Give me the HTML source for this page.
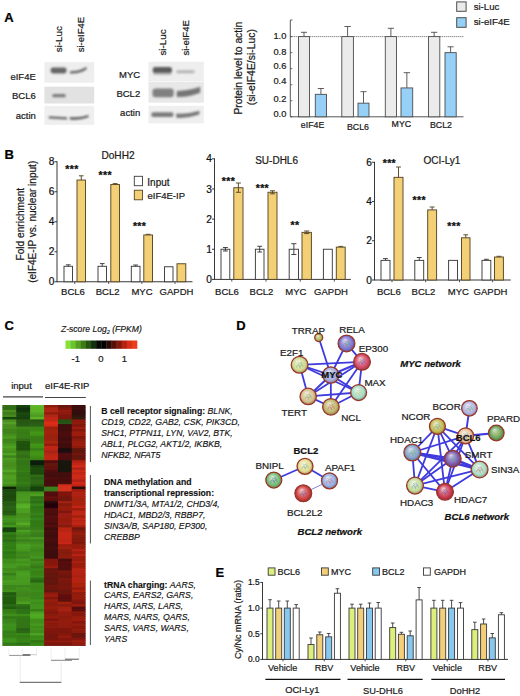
<!DOCTYPE html>
<html lang="en">
<head>
<meta charset="utf-8">
<title>Figure</title>
<style>
html,body{margin:0;padding:0;background:#fff;}
body{width:520px;height:696px;overflow:hidden;}
svg{display:block;font-family:'Liberation Sans', Arial, sans-serif;}
</style>
</head>
<body>
<svg width="520" height="696" viewBox="0 0 520 696">
<defs>
<filter id="blur1" x="-10%" y="-40%" width="120%" height="180%"><feGaussianBlur stdDeviation="0.9"/></filter>
<filter id="blur2" x="-2%" y="-1%" width="104%" height="102%"><feGaussianBlur stdDeviation="0.45"/></filter>
<filter id="blur3" x="-5%" y="-5%" width="110%" height="110%"><feGaussianBlur stdDeviation="0.35"/></filter>
<radialGradient id="ng1" cx="0.5" cy="0.5" r="0.5" fx="0.38" fy="0.30"><stop offset="0" stop-color="#edefdb"/><stop offset="0.35" stop-color="#cbd095"/><stop offset="0.75" stop-color="#b0b85c"/><stop offset="1" stop-color="#867d3e"/></radialGradient>
<radialGradient id="ng2" cx="0.5" cy="0.5" r="0.5" fx="0.38" fy="0.30"><stop offset="0" stop-color="#e3e0f4"/><stop offset="0.35" stop-color="#aca5e0"/><stop offset="0.75" stop-color="#8076d0"/><stop offset="1" stop-color="#67528a"/></radialGradient>
<radialGradient id="ng3" cx="0.5" cy="0.5" r="0.5" fx="0.38" fy="0.30"><stop offset="0" stop-color="#f5d7dd"/><stop offset="0.35" stop-color="#e38a9c"/><stop offset="0.75" stop-color="#d44c68"/><stop offset="1" stop-color="#9e3746"/></radialGradient>
<radialGradient id="ng4" cx="0.5" cy="0.5" r="0.5" fx="0.38" fy="0.30"><stop offset="0" stop-color="#f5f6e7"/><stop offset="0.35" stop-color="#e1e6b9"/><stop offset="0.75" stop-color="#d2da94"/><stop offset="1" stop-color="#9c9363"/></radialGradient>
<radialGradient id="ng5" cx="0.5" cy="0.5" r="0.5" fx="0.38" fy="0.30"><stop offset="0" stop-color="#ecedf8"/><stop offset="0.35" stop-color="#c7cbec"/><stop offset="0.75" stop-color="#aab0e2"/><stop offset="1" stop-color="#827895"/></radialGradient>
<radialGradient id="ng6" cx="0.5" cy="0.5" r="0.5" fx="0.38" fy="0.30"><stop offset="0" stop-color="#ebf7f2"/><stop offset="0.35" stop-color="#c6e8d9"/><stop offset="0.75" stop-color="#a8dcc6"/><stop offset="1" stop-color="#819483"/></radialGradient>
<radialGradient id="ng7" cx="0.5" cy="0.5" r="0.5" fx="0.38" fy="0.30"><stop offset="0" stop-color="#f6f1e6"/><stop offset="0.35" stop-color="#e5d6b6"/><stop offset="0.75" stop-color="#d8c090"/><stop offset="1" stop-color="#a08260"/></radialGradient>
<radialGradient id="ng8" cx="0.5" cy="0.5" r="0.5" fx="0.38" fy="0.30"><stop offset="0" stop-color="#f1efdf"/><stop offset="0.35" stop-color="#d6d0a2"/><stop offset="0.75" stop-color="#c0b870"/><stop offset="1" stop-color="#917d4b"/></radialGradient>
<radialGradient id="ng9" cx="0.5" cy="0.5" r="0.5" fx="0.38" fy="0.30"><stop offset="0" stop-color="#f9f7e6"/><stop offset="0.35" stop-color="#ede8b6"/><stop offset="0.75" stop-color="#e4dc90"/><stop offset="1" stop-color="#a89460"/></radialGradient>
<radialGradient id="ng10" cx="0.5" cy="0.5" r="0.5" fx="0.38" fy="0.30"><stop offset="0" stop-color="#e1f0e1"/><stop offset="0.35" stop-color="#a7d3a7"/><stop offset="0.75" stop-color="#78bc78"/><stop offset="1" stop-color="#627f50"/></radialGradient>
<radialGradient id="ng11" cx="0.5" cy="0.5" r="0.5" fx="0.38" fy="0.30"><stop offset="0" stop-color="#e8edf9"/><stop offset="0.35" stop-color="#bccbed"/><stop offset="0.75" stop-color="#98b0e4"/><stop offset="1" stop-color="#777897"/></radialGradient>
<radialGradient id="ng12" cx="0.5" cy="0.5" r="0.5" fx="0.38" fy="0.30"><stop offset="0" stop-color="#f4d5d5"/><stop offset="0.35" stop-color="#e08585"/><stop offset="0.75" stop-color="#d04444"/><stop offset="1" stop-color="#9b312f"/></radialGradient>
<radialGradient id="ng13" cx="0.5" cy="0.5" r="0.5" fx="0.38" fy="0.30"><stop offset="0" stop-color="#eeeef9"/><stop offset="0.35" stop-color="#ceceed"/><stop offset="0.75" stop-color="#b4b4e4"/><stop offset="1" stop-color="#897a97"/></radialGradient>
<radialGradient id="ng14" cx="0.5" cy="0.5" r="0.5" fx="0.38" fy="0.30"><stop offset="0" stop-color="#f2f0da"/><stop offset="0.35" stop-color="#d8d392"/><stop offset="0.75" stop-color="#c4bc58"/><stop offset="1" stop-color="#937f3c"/></radialGradient>
<radialGradient id="ng15" cx="0.5" cy="0.5" r="0.5" fx="0.38" fy="0.30"><stop offset="0" stop-color="#faf2e9"/><stop offset="0.35" stop-color="#f2d8be"/><stop offset="0.75" stop-color="#ecc49c"/><stop offset="1" stop-color="#ad8568"/></radialGradient>
<radialGradient id="ng16" cx="0.5" cy="0.5" r="0.5" fx="0.38" fy="0.30"><stop offset="0" stop-color="#deeadb"/><stop offset="0.35" stop-color="#9fc395"/><stop offset="0.75" stop-color="#6ca45c"/><stop offset="1" stop-color="#5a703e"/></radialGradient>
<radialGradient id="ng17" cx="0.5" cy="0.5" r="0.5" fx="0.38" fy="0.30"><stop offset="0" stop-color="#e3eaf3"/><stop offset="0.35" stop-color="#afc3dd"/><stop offset="0.75" stop-color="#84a4cc"/><stop offset="1" stop-color="#6a7087"/></radialGradient>
<radialGradient id="ng18" cx="0.5" cy="0.5" r="0.5" fx="0.38" fy="0.30"><stop offset="0" stop-color="#e2dbec"/><stop offset="0.35" stop-color="#a995c9"/><stop offset="0.75" stop-color="#7c5cac"/><stop offset="1" stop-color="#644172"/></radialGradient>
<radialGradient id="ng19" cx="0.5" cy="0.5" r="0.5" fx="0.38" fy="0.30"><stop offset="0" stop-color="#ecf7f2"/><stop offset="0.35" stop-color="#c9e8d8"/><stop offset="0.75" stop-color="#acdcc4"/><stop offset="1" stop-color="#849482"/></radialGradient>
<radialGradient id="ng20" cx="0.5" cy="0.5" r="0.5" fx="0.38" fy="0.30"><stop offset="0" stop-color="#f2f7e9"/><stop offset="0.35" stop-color="#d8e8be"/><stop offset="0.75" stop-color="#c4dc9c"/><stop offset="1" stop-color="#939468"/></radialGradient>
<radialGradient id="ng21" cx="0.5" cy="0.5" r="0.5" fx="0.38" fy="0.30"><stop offset="0" stop-color="#f3d4d9"/><stop offset="0.35" stop-color="#dd808f"/><stop offset="0.75" stop-color="#cc3c54"/><stop offset="1" stop-color="#982c39"/></radialGradient>
</defs>
<rect x="0" y="0" width="520" height="696" fill="#ffffff"/>
<text x="4.3" y="22.3" font-size="13" text-anchor="start" font-weight="bold" font-style="normal" fill="#000" stroke="#000" stroke-width="0.22">A</text>
<text x="61.9" y="52.3" font-size="9.8" text-anchor="start" font-weight="normal" font-style="normal" fill="#1a1a1a" stroke="#1a1a1a" stroke-width="0.22" transform="rotate(-90 61.9 52.3)">si-Luc</text>
<text x="83.6" y="52.3" font-size="9.5" text-anchor="start" font-weight="normal" font-style="normal" fill="#1a1a1a" stroke="#1a1a1a" stroke-width="0.22" transform="rotate(-90 83.6 52.3)">si-eIF4E</text>
<text x="35.8" y="79.7" font-size="9.5" text-anchor="end" font-weight="normal" font-style="normal" fill="#1a1a1a" stroke="#1a1a1a" stroke-width="0.22">eIF4E</text>
<text x="35.8" y="98.7" font-size="9.5" text-anchor="end" font-weight="normal" font-style="normal" fill="#1a1a1a" stroke="#1a1a1a" stroke-width="0.22">BCL6</text>
<text x="35.8" y="118.5" font-size="9.5" text-anchor="end" font-weight="normal" font-style="normal" fill="#1a1a1a" stroke="#1a1a1a" stroke-width="0.22">actin</text>
<rect x="44.40" y="62.20" width="49.80" height="20.50" fill="#eeeeee" stroke="none" stroke-width="1"/>
<rect x="44.40" y="86.70" width="49.80" height="16.80" fill="#e2e2e2" stroke="none" stroke-width="1"/>
<rect x="44.40" y="105.80" width="49.80" height="19.00" fill="#efefef" stroke="none" stroke-width="1"/>
<g filter="url(#blur1)">
<rect x="50.60" y="67.50" width="16.00" height="6.00" fill="#666666" stroke="none" stroke-width="1" rx="2.4"/>
<path d="M70 71 Q79 71.6 86.5 66.8 L86.7 69.2 Q79 74.4 70 73.4 Z" fill="#6a6a6a"/>
<rect x="52.20" y="93.90" width="13.60" height="3.40" fill="#7c7c7c" stroke="none" stroke-width="1" rx="1.6"/>
<path d="M48.8 116.2 L67 117.2 L67 119.6 L48.8 118.4 Z" fill="#666"/>
<path d="M69.8 117.0 Q80 118.0 88.5 115.0 L88.5 117.3 Q80 120.6 69.8 119.4 Z" fill="#5c5c5c"/>
</g>
<text x="165.6" y="55.6" font-size="9.8" text-anchor="start" font-weight="normal" font-style="normal" fill="#1a1a1a" stroke="#1a1a1a" stroke-width="0.22" transform="rotate(-90 165.6 55.6)">si-Luc</text>
<text x="188.6" y="55.6" font-size="9.5" text-anchor="start" font-weight="normal" font-style="normal" fill="#1a1a1a" stroke="#1a1a1a" stroke-width="0.22" transform="rotate(-90 188.6 55.6)">si-eIF4E</text>
<text x="140.2" y="78.4" font-size="9.5" text-anchor="end" font-weight="normal" font-style="normal" fill="#1a1a1a" stroke="#1a1a1a" stroke-width="0.22">MYC</text>
<text x="140.2" y="97.3" font-size="9.5" text-anchor="end" font-weight="normal" font-style="normal" fill="#1a1a1a" stroke="#1a1a1a" stroke-width="0.22">BCL2</text>
<text x="140.2" y="116.0" font-size="9.5" text-anchor="end" font-weight="normal" font-style="normal" fill="#1a1a1a" stroke="#1a1a1a" stroke-width="0.22">actin</text>
<rect x="148.50" y="61.70" width="55.30" height="19.60" fill="#eeeeee" stroke="none" stroke-width="1"/>
<rect x="148.50" y="81.80" width="55.30" height="20.90" fill="#e8e8e8" stroke="none" stroke-width="1"/>
<rect x="148.50" y="105.80" width="55.30" height="17.60" fill="#efefef" stroke="none" stroke-width="1"/>
<g filter="url(#blur1)">
<rect x="153.20" y="71.50" width="18.30" height="3.60" fill="#b8b8b8" stroke="none" stroke-width="1" rx="1.6"/>
<rect x="152.70" y="66.90" width="19.30" height="6.20" fill="#5c5c5c" stroke="none" stroke-width="1" rx="2.6"/>
<rect x="176.30" y="70.30" width="18.30" height="3.00" fill="#b4b4b4" stroke="none" stroke-width="1" rx="1.4"/>
<rect x="152.50" y="88.60" width="21.20" height="8.60" fill="#808080" stroke="none" stroke-width="1" rx="3"/>
<path d="M176.8 91.0 Q189 90.6 200.2 86.8 L200.2 92.8 Q189 97.4 176.8 97.0 Z" fill="#767676"/>
<rect x="151.30" y="112.20" width="22.20" height="4.90" fill="#7a7a7a" stroke="none" stroke-width="1" rx="2"/>
<path d="M176.3 113.6 Q188 114.4 199.4 110.8 L199.4 114.6 Q188 118.6 176.3 117.8 Z" fill="#787878"/>
</g>
<text x="242.5" y="68.2" font-size="10.3" text-anchor="middle" font-weight="normal" font-style="normal" fill="#1a1a1a" stroke="#1a1a1a" stroke-width="0.22" transform="rotate(-90 242.5 68.2)">Protein level to actin</text>
<text x="254.7" y="67.2" font-size="10.4" text-anchor="middle" font-weight="normal" font-style="normal" fill="#1a1a1a" stroke="#1a1a1a" stroke-width="0.22" transform="rotate(-90 254.7 67.2)">(si-eIF4E/si-Luc)</text>
<text x="286.4" y="117.3" font-size="9.3" text-anchor="end" font-weight="normal" font-style="normal" fill="#1a1a1a" stroke="#1a1a1a" stroke-width="0.22">0.0</text>
<line x1="290.3" y1="116.8" x2="292.3" y2="116.8" stroke="#444" stroke-width="0.8"/>
<text x="286.4" y="101.6" font-size="9.3" text-anchor="end" font-weight="normal" font-style="normal" fill="#1a1a1a" stroke="#1a1a1a" stroke-width="0.22">0.2</text>
<line x1="290.3" y1="100.75999999999999" x2="292.3" y2="100.75999999999999" stroke="#444" stroke-width="0.8"/>
<text x="286.4" y="84.2" font-size="9.3" text-anchor="end" font-weight="normal" font-style="normal" fill="#1a1a1a" stroke="#1a1a1a" stroke-width="0.22">0.4</text>
<line x1="290.3" y1="84.72" x2="292.3" y2="84.72" stroke="#444" stroke-width="0.8"/>
<text x="286.4" y="69.3" font-size="9.3" text-anchor="end" font-weight="normal" font-style="normal" fill="#1a1a1a" stroke="#1a1a1a" stroke-width="0.22">0.6</text>
<line x1="290.3" y1="68.68" x2="292.3" y2="68.68" stroke="#444" stroke-width="0.8"/>
<text x="286.4" y="55.199999999999996" font-size="9.3" text-anchor="end" font-weight="normal" font-style="normal" fill="#1a1a1a" stroke="#1a1a1a" stroke-width="0.22">0.8</text>
<line x1="290.3" y1="52.639999999999986" x2="292.3" y2="52.639999999999986" stroke="#444" stroke-width="0.8"/>
<text x="286.4" y="39.0" font-size="9.3" text-anchor="end" font-weight="normal" font-style="normal" fill="#1a1a1a" stroke="#1a1a1a" stroke-width="0.22">1.0</text>
<line x1="290.3" y1="36.599999999999994" x2="292.3" y2="36.599999999999994" stroke="#444" stroke-width="0.8"/>
<line x1="290.3" y1="20" x2="290.3" y2="116.8" stroke="#444" stroke-width="0.9"/>
<line x1="290.3" y1="20" x2="292.5" y2="20" stroke="#444" stroke-width="0.8"/>
<line x1="290.3" y1="116.8" x2="463.5" y2="116.8" stroke="#444" stroke-width="0.9"/>
<line x1="290.3" y1="36.599999999999994" x2="464" y2="36.599999999999994" stroke="#333" stroke-width="0.8" stroke-dasharray="1 1"/>
<rect x="298.50" y="36.60" width="11.00" height="80.20" fill="#ebebeb" stroke="#4c4c4c" stroke-width="0.9"/>
<line x1="304.0" y1="32.3" x2="304.0" y2="36.599999999999994" stroke="#4c4c4c" stroke-width="0.9"/>
<line x1="300.975" y1="32.3" x2="307.025" y2="32.3" stroke="#4c4c4c" stroke-width="0.9"/>
<rect x="315.30" y="94.34" width="11.20" height="22.46" fill="#97d0f7" stroke="#4c4c4c" stroke-width="0.9"/>
<line x1="320.9" y1="88.5" x2="320.9" y2="94.344" stroke="#4c4c4c" stroke-width="0.9"/>
<line x1="317.82" y1="88.5" x2="323.97999999999996" y2="88.5" stroke="#4c4c4c" stroke-width="0.9"/>
<rect x="341.80" y="36.60" width="11.60" height="80.20" fill="#ebebeb" stroke="#4c4c4c" stroke-width="0.9"/>
<line x1="347.6" y1="26.5" x2="347.6" y2="36.599999999999994" stroke="#4c4c4c" stroke-width="0.9"/>
<line x1="344.41" y1="26.5" x2="350.79" y2="26.5" stroke="#4c4c4c" stroke-width="0.9"/>
<rect x="358.00" y="103.17" width="11.00" height="13.63" fill="#97d0f7" stroke="#4c4c4c" stroke-width="0.9"/>
<line x1="363.5" y1="91.7" x2="363.5" y2="103.166" stroke="#4c4c4c" stroke-width="0.9"/>
<line x1="360.475" y1="91.7" x2="366.525" y2="91.7" stroke="#4c4c4c" stroke-width="0.9"/>
<rect x="385.30" y="36.60" width="11.20" height="80.20" fill="#ebebeb" stroke="#4c4c4c" stroke-width="0.9"/>
<line x1="390.9" y1="28.3" x2="390.9" y2="36.599999999999994" stroke="#4c4c4c" stroke-width="0.9"/>
<line x1="387.82" y1="28.3" x2="393.97999999999996" y2="28.3" stroke="#4c4c4c" stroke-width="0.9"/>
<rect x="401.00" y="87.93" width="11.70" height="28.87" fill="#97d0f7" stroke="#4c4c4c" stroke-width="0.9"/>
<line x1="406.85" y1="72.7" x2="406.85" y2="87.928" stroke="#4c4c4c" stroke-width="0.9"/>
<line x1="403.63250000000005" y1="72.7" x2="410.0675" y2="72.7" stroke="#4c4c4c" stroke-width="0.9"/>
<rect x="428.50" y="36.60" width="11.30" height="80.20" fill="#ebebeb" stroke="#4c4c4c" stroke-width="0.9"/>
<line x1="434.15" y1="32.3" x2="434.15" y2="36.599999999999994" stroke="#4c4c4c" stroke-width="0.9"/>
<line x1="431.04249999999996" y1="32.3" x2="437.2575" y2="32.3" stroke="#4c4c4c" stroke-width="0.9"/>
<rect x="445.00" y="52.64" width="11.20" height="64.16" fill="#97d0f7" stroke="#4c4c4c" stroke-width="0.9"/>
<line x1="450.6" y1="46.8" x2="450.6" y2="52.639999999999986" stroke="#4c4c4c" stroke-width="0.9"/>
<line x1="447.52000000000004" y1="46.8" x2="453.68" y2="46.8" stroke="#4c4c4c" stroke-width="0.9"/>
<text x="312.6" y="128.2" font-size="8.8" text-anchor="middle" font-weight="normal" font-style="normal" fill="#1a1a1a" stroke="#1a1a1a" stroke-width="0.22">eIF4E</text>
<text x="358" y="129.6" font-size="8.8" text-anchor="middle" font-weight="normal" font-style="normal" fill="#1a1a1a" stroke="#1a1a1a" stroke-width="0.22">BCL6</text>
<text x="401.4" y="127.2" font-size="8.8" text-anchor="middle" font-weight="normal" font-style="normal" fill="#1a1a1a" stroke="#1a1a1a" stroke-width="0.22">MYC</text>
<text x="441" y="127.9" font-size="8.8" text-anchor="middle" font-weight="normal" font-style="normal" fill="#1a1a1a" stroke="#1a1a1a" stroke-width="0.22">BCL2</text>
<rect x="456.70" y="1.90" width="9.40" height="9.40" fill="#ebebeb" stroke="#4c4c4c" stroke-width="1.0"/>
<rect x="456.70" y="17.70" width="9.40" height="9.60" fill="#97d0f7" stroke="#4c4c4c" stroke-width="1.0"/>
<text x="473.7" y="9.6" font-size="9.6" text-anchor="start" font-weight="normal" font-style="normal" fill="#1a1a1a" stroke="#1a1a1a" stroke-width="0.22">si-Luc</text>
<text x="473.7" y="24.8" font-size="9.7" text-anchor="start" font-weight="normal" font-style="normal" fill="#1a1a1a" stroke="#1a1a1a" stroke-width="0.22">si-eIF4E</text>
<text x="4.6" y="158.6" font-size="13" text-anchor="start" font-weight="bold" font-style="normal" fill="#000" stroke="#000" stroke-width="0.22">B</text>
<text x="24.3" y="224.2" font-size="10.15" text-anchor="middle" font-weight="normal" font-style="normal" fill="#1a1a1a" stroke="#1a1a1a" stroke-width="0.22" transform="rotate(-90 24.3 224.2)">Fold enrichment</text>
<text x="36.0" y="221.8" font-size="10.05" text-anchor="middle" font-weight="normal" font-style="normal" fill="#1a1a1a" stroke="#1a1a1a" stroke-width="0.22" transform="rotate(-90 36.0 221.8)">(eIF4E-IP vs. nuclear input)</text>
<text x="54.4" y="285.35" font-size="10.2" text-anchor="end" font-weight="normal" font-style="normal" fill="#111" stroke="#111" stroke-width="0.22">0</text>
<line x1="54.5" y1="281.75" x2="57" y2="281.75" stroke="#222" stroke-width="0.9"/>
<text x="54.4" y="255.35" font-size="10.2" text-anchor="end" font-weight="normal" font-style="normal" fill="#111" stroke="#111" stroke-width="0.22">2</text>
<line x1="54.5" y1="251.75" x2="57" y2="251.75" stroke="#222" stroke-width="0.9"/>
<text x="54.4" y="225.35" font-size="10.2" text-anchor="end" font-weight="normal" font-style="normal" fill="#111" stroke="#111" stroke-width="0.22">4</text>
<line x1="54.5" y1="221.75" x2="57" y2="221.75" stroke="#222" stroke-width="0.9"/>
<text x="54.4" y="195.35" font-size="10.2" text-anchor="end" font-weight="normal" font-style="normal" fill="#111" stroke="#111" stroke-width="0.22">6</text>
<line x1="54.5" y1="191.75" x2="57" y2="191.75" stroke="#222" stroke-width="0.9"/>
<text x="54.4" y="165.35" font-size="10.2" text-anchor="end" font-weight="normal" font-style="normal" fill="#111" stroke="#111" stroke-width="0.22">8</text>
<line x1="54.5" y1="161.75" x2="57" y2="161.75" stroke="#222" stroke-width="0.9"/>
<line x1="57" y1="161.35" x2="57" y2="282.15" stroke="#222" stroke-width="0.9"/>
<line x1="57" y1="281.75" x2="192.5" y2="281.75" stroke="#222" stroke-width="0.9"/>
<rect x="64.00" y="266.30" width="8.50" height="15.45" fill="#ffffff" stroke="#3c3c3c" stroke-width="0.95"/>
<line x1="68.25" y1="264.8" x2="68.25" y2="266.3" stroke="#3c3c3c" stroke-width="0.95"/>
<line x1="65.9125" y1="264.8" x2="70.5875" y2="264.8" stroke="#3c3c3c" stroke-width="0.95"/>
<rect x="77.00" y="180.05" width="8.50" height="101.70" fill="#f3cf76" stroke="#574626" stroke-width="0.95"/>
<line x1="81.25" y1="175.8" x2="81.25" y2="180.05" stroke="#574626" stroke-width="0.95"/>
<line x1="78.9125" y1="175.8" x2="83.5875" y2="175.8" stroke="#574626" stroke-width="0.95"/>
<rect x="98.00" y="266.30" width="8.50" height="15.45" fill="#ffffff" stroke="#3c3c3c" stroke-width="0.95"/>
<line x1="102.25" y1="263.6" x2="102.25" y2="266.3" stroke="#3c3c3c" stroke-width="0.95"/>
<line x1="99.9125" y1="263.6" x2="104.5875" y2="263.6" stroke="#3c3c3c" stroke-width="0.95"/>
<rect x="110.80" y="184.55" width="8.70" height="97.20" fill="#f3cf76" stroke="#574626" stroke-width="0.95"/>
<line x1="115.15" y1="183.6" x2="115.15" y2="184.55" stroke="#574626" stroke-width="0.95"/>
<line x1="112.75750000000001" y1="183.6" x2="117.5425" y2="183.6" stroke="#574626" stroke-width="0.95"/>
<rect x="131.30" y="266.30" width="8.70" height="15.45" fill="#ffffff" stroke="#3c3c3c" stroke-width="0.95"/>
<line x1="135.65" y1="265" x2="135.65" y2="266.3" stroke="#3c3c3c" stroke-width="0.95"/>
<line x1="133.25750000000002" y1="265" x2="138.0425" y2="265" stroke="#3c3c3c" stroke-width="0.95"/>
<rect x="143.80" y="234.95" width="8.70" height="46.80" fill="#f3cf76" stroke="#574626" stroke-width="0.95"/>
<line x1="148.15" y1="234.3" x2="148.15" y2="234.95" stroke="#574626" stroke-width="0.95"/>
<line x1="145.75750000000002" y1="234.3" x2="150.5425" y2="234.3" stroke="#574626" stroke-width="0.95"/>
<rect x="164.50" y="266.75" width="8.50" height="15.00" fill="#ffffff" stroke="#3c3c3c" stroke-width="0.95"/>
<rect x="177.00" y="263.75" width="8.80" height="18.00" fill="#f3cf76" stroke="#574626" stroke-width="0.95"/>
<line x1="74.75" y1="281.75" x2="74.75" y2="283.95" stroke="#222" stroke-width="0.8"/>
<line x1="108.65" y1="281.75" x2="108.65" y2="283.95" stroke="#222" stroke-width="0.8"/>
<line x1="141.9" y1="281.75" x2="141.9" y2="283.95" stroke="#222" stroke-width="0.8"/>
<line x1="175.0" y1="281.75" x2="175.0" y2="283.95" stroke="#222" stroke-width="0.8"/>
<text x="73" y="295.4" font-size="9.5" text-anchor="middle" font-weight="normal" font-style="normal" fill="#1a1a1a" stroke="#1a1a1a" stroke-width="0.22">BCL6</text>
<text x="107.6" y="295.4" font-size="9.5" text-anchor="middle" font-weight="normal" font-style="normal" fill="#1a1a1a" stroke="#1a1a1a" stroke-width="0.22">BCL2</text>
<text x="142" y="295.4" font-size="9.5" text-anchor="middle" font-weight="normal" font-style="normal" fill="#1a1a1a" stroke="#1a1a1a" stroke-width="0.22">MYC</text>
<text x="176.5" y="295.4" font-size="9.5" text-anchor="middle" font-weight="normal" font-style="normal" fill="#1a1a1a" stroke="#1a1a1a" stroke-width="0.22">GAPDH</text>
<text x="118.0" y="159.3" font-size="10.1" text-anchor="middle" font-weight="normal" font-style="normal" fill="#1a1a1a" stroke="#1a1a1a" stroke-width="0.22">DoHH2</text>
<text x="72.0" y="172.9" font-size="10.5" text-anchor="middle" font-weight="bold" font-style="normal" fill="#111" stroke="#111" stroke-width="0.25" letter-spacing="0.35">***</text>
<text x="105.2" y="178.9" font-size="10.5" text-anchor="middle" font-weight="bold" font-style="normal" fill="#111" stroke="#111" stroke-width="0.25" letter-spacing="0.35">***</text>
<text x="139.6" y="229.6" font-size="10.5" text-anchor="middle" font-weight="bold" font-style="normal" fill="#111" stroke="#111" stroke-width="0.25" letter-spacing="0.35">***</text>
<rect x="134.30" y="176.30" width="8.20" height="9.40" fill="#ffffff" stroke="#3c3c3c" stroke-width="0.9"/>
<rect x="134.30" y="190.20" width="8.20" height="9.60" fill="#f3cf76" stroke="#574626" stroke-width="0.9"/>
<text x="147.3" y="185.5" font-size="10" text-anchor="start" font-weight="normal" font-style="normal" fill="#1a1a1a" stroke="#1a1a1a" stroke-width="0.22">Input</text>
<text x="147.5" y="198.6" font-size="9.5" text-anchor="start" font-weight="normal" font-style="normal" fill="#1a1a1a" stroke="#1a1a1a" stroke-width="0.22">eIF4E-IP</text>
<text x="211.9" y="283.0" font-size="10.2" text-anchor="end" font-weight="normal" font-style="normal" fill="#111" stroke="#111" stroke-width="0.22">0</text>
<line x1="212.0" y1="279.4" x2="214.5" y2="279.4" stroke="#222" stroke-width="0.9"/>
<text x="211.9" y="252.84999999999997" font-size="10.2" text-anchor="end" font-weight="normal" font-style="normal" fill="#111" stroke="#111" stroke-width="0.22">1</text>
<line x1="212.0" y1="249.24999999999997" x2="214.5" y2="249.24999999999997" stroke="#222" stroke-width="0.9"/>
<text x="211.9" y="222.69999999999996" font-size="10.2" text-anchor="end" font-weight="normal" font-style="normal" fill="#111" stroke="#111" stroke-width="0.22">2</text>
<line x1="212.0" y1="219.09999999999997" x2="214.5" y2="219.09999999999997" stroke="#222" stroke-width="0.9"/>
<text x="211.9" y="192.54999999999998" font-size="10.2" text-anchor="end" font-weight="normal" font-style="normal" fill="#111" stroke="#111" stroke-width="0.22">3</text>
<line x1="212.0" y1="188.95" x2="214.5" y2="188.95" stroke="#222" stroke-width="0.9"/>
<text x="211.9" y="162.39999999999998" font-size="10.2" text-anchor="end" font-weight="normal" font-style="normal" fill="#111" stroke="#111" stroke-width="0.22">4</text>
<line x1="212.0" y1="158.79999999999998" x2="214.5" y2="158.79999999999998" stroke="#222" stroke-width="0.9"/>
<line x1="214.5" y1="158.39999999999998" x2="214.5" y2="279.79999999999995" stroke="#222" stroke-width="0.9"/>
<line x1="214.5" y1="279.4" x2="350.8" y2="279.4" stroke="#222" stroke-width="0.9"/>
<rect x="221.00" y="249.25" width="8.80" height="30.15" fill="#ffffff" stroke="#3c3c3c" stroke-width="0.95"/>
<line x1="225.4" y1="247.5" x2="225.4" y2="251" stroke="#3c3c3c" stroke-width="0.95"/>
<line x1="222.98" y1="247.5" x2="227.82000000000002" y2="247.5" stroke="#3c3c3c" stroke-width="0.95"/>
<line x1="222.98" y1="251" x2="227.82000000000002" y2="251" stroke="#3c3c3c" stroke-width="0.95"/>
<rect x="233.80" y="187.74" width="9.20" height="91.66" fill="#f3cf76" stroke="#574626" stroke-width="0.95"/>
<line x1="238.4" y1="183" x2="238.4" y2="192.3" stroke="#574626" stroke-width="0.95"/>
<line x1="235.87" y1="183" x2="240.93" y2="183" stroke="#574626" stroke-width="0.95"/>
<line x1="235.87" y1="192.3" x2="240.93" y2="192.3" stroke="#574626" stroke-width="0.95"/>
<rect x="255.40" y="249.25" width="8.60" height="30.15" fill="#ffffff" stroke="#3c3c3c" stroke-width="0.95"/>
<line x1="259.7" y1="246.3" x2="259.7" y2="252" stroke="#3c3c3c" stroke-width="0.95"/>
<line x1="257.335" y1="246.3" x2="262.065" y2="246.3" stroke="#3c3c3c" stroke-width="0.95"/>
<line x1="257.335" y1="252" x2="262.065" y2="252" stroke="#3c3c3c" stroke-width="0.95"/>
<rect x="268.00" y="192.27" width="9.00" height="87.13" fill="#f3cf76" stroke="#574626" stroke-width="0.95"/>
<line x1="272.5" y1="190.8" x2="272.5" y2="193.8" stroke="#574626" stroke-width="0.95"/>
<line x1="270.025" y1="190.8" x2="274.975" y2="190.8" stroke="#574626" stroke-width="0.95"/>
<line x1="270.025" y1="193.8" x2="274.975" y2="193.8" stroke="#574626" stroke-width="0.95"/>
<rect x="289.20" y="249.25" width="9.30" height="30.15" fill="#ffffff" stroke="#3c3c3c" stroke-width="0.95"/>
<line x1="293.85" y1="243.7" x2="293.85" y2="254.5" stroke="#3c3c3c" stroke-width="0.95"/>
<line x1="291.2925" y1="243.7" x2="296.4075" y2="243.7" stroke="#3c3c3c" stroke-width="0.95"/>
<line x1="291.2925" y1="254.5" x2="296.4075" y2="254.5" stroke="#3c3c3c" stroke-width="0.95"/>
<rect x="302.00" y="232.37" width="9.40" height="47.03" fill="#f3cf76" stroke="#574626" stroke-width="0.95"/>
<line x1="306.7" y1="231" x2="306.7" y2="233.6" stroke="#574626" stroke-width="0.95"/>
<line x1="304.115" y1="231" x2="309.28499999999997" y2="231" stroke="#574626" stroke-width="0.95"/>
<line x1="304.115" y1="233.6" x2="309.28499999999997" y2="233.6" stroke="#574626" stroke-width="0.95"/>
<rect x="323.40" y="249.25" width="8.90" height="30.15" fill="#ffffff" stroke="#3c3c3c" stroke-width="0.95"/>
<rect x="336.30" y="247.14" width="8.90" height="32.26" fill="#f3cf76" stroke="#574626" stroke-width="0.95"/>
<line x1="340.75" y1="246.4" x2="340.75" y2="247.13949999999997" stroke="#574626" stroke-width="0.95"/>
<line x1="338.3025" y1="246.4" x2="343.1975" y2="246.4" stroke="#574626" stroke-width="0.95"/>
<line x1="231.8" y1="279.4" x2="231.8" y2="281.59999999999997" stroke="#222" stroke-width="0.8"/>
<line x1="266.0" y1="279.4" x2="266.0" y2="281.59999999999997" stroke="#222" stroke-width="0.8"/>
<line x1="300.25" y1="279.4" x2="300.25" y2="281.59999999999997" stroke="#222" stroke-width="0.8"/>
<line x1="334.3" y1="279.4" x2="334.3" y2="281.59999999999997" stroke="#222" stroke-width="0.8"/>
<text x="227" y="295.4" font-size="9.5" text-anchor="middle" font-weight="normal" font-style="normal" fill="#1a1a1a" stroke="#1a1a1a" stroke-width="0.22">BCL6</text>
<text x="261.5" y="295.4" font-size="9.5" text-anchor="middle" font-weight="normal" font-style="normal" fill="#1a1a1a" stroke="#1a1a1a" stroke-width="0.22">BCL2</text>
<text x="295.8" y="295.4" font-size="9.5" text-anchor="middle" font-weight="normal" font-style="normal" fill="#1a1a1a" stroke="#1a1a1a" stroke-width="0.22">MYC</text>
<text x="331" y="295.4" font-size="9.5" text-anchor="middle" font-weight="normal" font-style="normal" fill="#1a1a1a" stroke="#1a1a1a" stroke-width="0.22">GAPDH</text>
<text x="276.6" y="163.6" font-size="10" text-anchor="middle" font-weight="normal" font-style="normal" fill="#1a1a1a" stroke="#1a1a1a" stroke-width="0.22">SU-DHL6</text>
<text x="228.5" y="184.9" font-size="10.5" text-anchor="middle" font-weight="bold" font-style="normal" fill="#111" stroke="#111" stroke-width="0.25" letter-spacing="0.35">***</text>
<text x="262.4" y="191.9" font-size="10.5" text-anchor="middle" font-weight="bold" font-style="normal" fill="#111" stroke="#111" stroke-width="0.25" letter-spacing="0.35">***</text>
<text x="294.9" y="228.9" font-size="10.5" text-anchor="middle" font-weight="bold" font-style="normal" fill="#111" stroke="#111" stroke-width="0.25" letter-spacing="0.35">**</text>
<text x="371.9" y="283.6" font-size="10.2" text-anchor="end" font-weight="normal" font-style="normal" fill="#111" stroke="#111" stroke-width="0.22">0</text>
<line x1="372.0" y1="280.0" x2="374.5" y2="280.0" stroke="#222" stroke-width="0.9"/>
<text x="371.9" y="244.34" font-size="10.2" text-anchor="end" font-weight="normal" font-style="normal" fill="#111" stroke="#111" stroke-width="0.22">2</text>
<line x1="372.0" y1="240.74" x2="374.5" y2="240.74" stroke="#222" stroke-width="0.9"/>
<text x="371.9" y="205.08" font-size="10.2" text-anchor="end" font-weight="normal" font-style="normal" fill="#111" stroke="#111" stroke-width="0.22">4</text>
<line x1="372.0" y1="201.48000000000002" x2="374.5" y2="201.48000000000002" stroke="#222" stroke-width="0.9"/>
<text x="371.9" y="165.82" font-size="10.2" text-anchor="end" font-weight="normal" font-style="normal" fill="#111" stroke="#111" stroke-width="0.22">6</text>
<line x1="372.0" y1="162.22" x2="374.5" y2="162.22" stroke="#222" stroke-width="0.9"/>
<line x1="374.5" y1="161.82" x2="374.5" y2="280.4" stroke="#222" stroke-width="0.9"/>
<line x1="374.5" y1="280" x2="510.8" y2="280" stroke="#222" stroke-width="0.9"/>
<rect x="381.00" y="260.37" width="9.00" height="19.63" fill="#ffffff" stroke="#3c3c3c" stroke-width="0.95"/>
<line x1="385.5" y1="258.6" x2="385.5" y2="260.37" stroke="#3c3c3c" stroke-width="0.95"/>
<line x1="383.025" y1="258.6" x2="387.975" y2="258.6" stroke="#3c3c3c" stroke-width="0.95"/>
<rect x="394.00" y="177.34" width="9.00" height="102.66" fill="#f3cf76" stroke="#574626" stroke-width="0.95"/>
<line x1="398.5" y1="167" x2="398.5" y2="177.3351" stroke="#574626" stroke-width="0.95"/>
<line x1="396.025" y1="167" x2="400.975" y2="167" stroke="#574626" stroke-width="0.95"/>
<rect x="414.80" y="260.37" width="8.90" height="19.63" fill="#ffffff" stroke="#3c3c3c" stroke-width="0.95"/>
<line x1="419.25" y1="257.5" x2="419.25" y2="260.37" stroke="#3c3c3c" stroke-width="0.95"/>
<line x1="416.8025" y1="257.5" x2="421.6975" y2="257.5" stroke="#3c3c3c" stroke-width="0.95"/>
<rect x="427.70" y="209.92" width="8.90" height="70.08" fill="#f3cf76" stroke="#574626" stroke-width="0.95"/>
<line x1="432.15" y1="207" x2="432.15" y2="209.92090000000002" stroke="#574626" stroke-width="0.95"/>
<line x1="429.7025" y1="207" x2="434.59749999999997" y2="207" stroke="#574626" stroke-width="0.95"/>
<rect x="448.60" y="260.37" width="8.90" height="19.63" fill="#ffffff" stroke="#3c3c3c" stroke-width="0.95"/>
<rect x="461.50" y="237.80" width="8.50" height="42.20" fill="#f3cf76" stroke="#574626" stroke-width="0.95"/>
<line x1="465.75" y1="234.8" x2="465.75" y2="237.7955" stroke="#574626" stroke-width="0.95"/>
<line x1="463.4125" y1="234.8" x2="468.0875" y2="234.8" stroke="#574626" stroke-width="0.95"/>
<rect x="482.00" y="260.37" width="8.80" height="19.63" fill="#ffffff" stroke="#3c3c3c" stroke-width="0.95"/>
<line x1="486.4" y1="259.3" x2="486.4" y2="260.37" stroke="#3c3c3c" stroke-width="0.95"/>
<line x1="483.97999999999996" y1="259.3" x2="488.82" y2="259.3" stroke="#3c3c3c" stroke-width="0.95"/>
<rect x="494.50" y="257.03" width="8.90" height="22.97" fill="#f3cf76" stroke="#574626" stroke-width="0.95"/>
<line x1="498.95" y1="256.3" x2="498.95" y2="257.0329" stroke="#574626" stroke-width="0.95"/>
<line x1="496.5025" y1="256.3" x2="501.3975" y2="256.3" stroke="#574626" stroke-width="0.95"/>
<line x1="392.0" y1="280" x2="392.0" y2="282.2" stroke="#222" stroke-width="0.8"/>
<line x1="425.7" y1="280" x2="425.7" y2="282.2" stroke="#222" stroke-width="0.8"/>
<line x1="459.5" y1="280" x2="459.5" y2="282.2" stroke="#222" stroke-width="0.8"/>
<line x1="492.65" y1="280" x2="492.65" y2="282.2" stroke="#222" stroke-width="0.8"/>
<text x="388.8" y="295.4" font-size="9.5" text-anchor="middle" font-weight="normal" font-style="normal" fill="#1a1a1a" stroke="#1a1a1a" stroke-width="0.22">BCL6</text>
<text x="423.5" y="295.4" font-size="9.5" text-anchor="middle" font-weight="normal" font-style="normal" fill="#1a1a1a" stroke="#1a1a1a" stroke-width="0.22">BCL2</text>
<text x="458.3" y="295.4" font-size="9.5" text-anchor="middle" font-weight="normal" font-style="normal" fill="#1a1a1a" stroke="#1a1a1a" stroke-width="0.22">MYC</text>
<text x="490.5" y="295.4" font-size="9.5" text-anchor="middle" font-weight="normal" font-style="normal" fill="#1a1a1a" stroke="#1a1a1a" stroke-width="0.22">GAPDH</text>
<text x="442" y="163.6" font-size="10" text-anchor="middle" font-weight="normal" font-style="normal" fill="#1a1a1a" stroke="#1a1a1a" stroke-width="0.22">OCI-Ly1</text>
<text x="389.4" y="166.9" font-size="10.5" text-anchor="middle" font-weight="bold" font-style="normal" fill="#111" stroke="#111" stroke-width="0.25" letter-spacing="0.35">***</text>
<text x="419.2" y="203.70000000000002" font-size="10.5" text-anchor="middle" font-weight="bold" font-style="normal" fill="#111" stroke="#111" stroke-width="0.25" letter-spacing="0.35">***</text>
<text x="454.0" y="229.6" font-size="10.5" text-anchor="middle" font-weight="bold" font-style="normal" fill="#111" stroke="#111" stroke-width="0.25" letter-spacing="0.35">***</text>
<text x="4.6" y="329.6" font-size="13" text-anchor="start" font-weight="bold" font-style="normal" fill="#000" stroke="#000" stroke-width="0.22">C</text>
<text x="60.9" y="332" font-size="8.6" font-style="italic" fill="#1a1a1a" stroke="#1a1a1a" stroke-width="0.18">Z-score Log<tspan font-size="5.6" dy="2">2</tspan><tspan dy="-2"> (FPKM)</tspan></text>
<rect x="65.50" y="340.50" width="5.41" height="8.30" fill="#86e03a" stroke="none" stroke-width="1"/>
<rect x="70.61" y="340.50" width="5.41" height="8.30" fill="#6cc42c" stroke="none" stroke-width="1"/>
<rect x="75.71" y="340.50" width="5.41" height="8.30" fill="#55a022" stroke="none" stroke-width="1"/>
<rect x="80.82" y="340.50" width="5.41" height="8.30" fill="#3d7a1a" stroke="none" stroke-width="1"/>
<rect x="85.93" y="340.50" width="5.41" height="8.30" fill="#265212" stroke="none" stroke-width="1"/>
<rect x="91.04" y="340.50" width="5.41" height="8.30" fill="#12300c" stroke="none" stroke-width="1"/>
<rect x="96.14" y="340.50" width="5.41" height="8.30" fill="#050805" stroke="none" stroke-width="1"/>
<rect x="101.25" y="340.50" width="5.41" height="8.30" fill="#000000" stroke="none" stroke-width="1"/>
<rect x="106.36" y="340.50" width="5.41" height="8.30" fill="#2a0806" stroke="none" stroke-width="1"/>
<rect x="111.46" y="340.50" width="5.41" height="8.30" fill="#551008" stroke="none" stroke-width="1"/>
<rect x="116.57" y="340.50" width="5.41" height="8.30" fill="#85180c" stroke="none" stroke-width="1"/>
<rect x="121.68" y="340.50" width="5.41" height="8.30" fill="#b42212" stroke="none" stroke-width="1"/>
<rect x="126.79" y="340.50" width="5.41" height="8.30" fill="#d83018" stroke="none" stroke-width="1"/>
<rect x="131.89" y="340.50" width="5.41" height="8.30" fill="#ec3c1c" stroke="none" stroke-width="1"/>
<text x="75.8" y="362.3" font-size="9.5" text-anchor="middle" font-weight="normal" font-style="normal" fill="#1a1a1a" stroke="#1a1a1a" stroke-width="0.22">-1</text>
<text x="100.8" y="362.3" font-size="9.5" text-anchor="middle" font-weight="normal" font-style="normal" fill="#1a1a1a" stroke="#1a1a1a" stroke-width="0.22">0</text>
<text x="124.4" y="362.3" font-size="9.5" text-anchor="middle" font-weight="normal" font-style="normal" fill="#1a1a1a" stroke="#1a1a1a" stroke-width="0.22">1</text>
<text x="21.5" y="389" font-size="9.5" text-anchor="middle" font-weight="normal" font-style="normal" fill="#1a1a1a" stroke="#1a1a1a" stroke-width="0.22">input</text>
<text x="67.2" y="389" font-size="9.5" text-anchor="middle" font-weight="normal" font-style="normal" fill="#1a1a1a" stroke="#1a1a1a" stroke-width="0.22">eIF4E-RIP</text>
<line x1="3" y1="396.9" x2="43" y2="396.9" stroke="#444" stroke-width="1.1"/>
<line x1="45" y1="397.5" x2="85.8" y2="397.5" stroke="#444" stroke-width="1.1"/>
<g filter="url(#blur2)">
<rect x="2.40" y="405.00" width="14.50" height="3.20" fill="#346e17" stroke="none" stroke-width="1"/>
<rect x="2.40" y="407.40" width="14.50" height="3.20" fill="#326a16" stroke="none" stroke-width="1"/>
<rect x="2.40" y="409.80" width="14.50" height="3.20" fill="#488d1f" stroke="none" stroke-width="1"/>
<rect x="2.40" y="412.20" width="14.50" height="3.20" fill="#3f7a1b" stroke="none" stroke-width="1"/>
<rect x="2.40" y="414.60" width="14.50" height="3.20" fill="#46891e" stroke="none" stroke-width="1"/>
<rect x="2.40" y="417.00" width="14.50" height="3.20" fill="#17440e" stroke="none" stroke-width="1"/>
<rect x="2.40" y="419.40" width="14.50" height="3.20" fill="#4c8e21" stroke="none" stroke-width="1"/>
<rect x="2.40" y="421.80" width="14.50" height="3.20" fill="#559f26" stroke="none" stroke-width="1"/>
<rect x="2.40" y="424.20" width="14.50" height="3.20" fill="#4c8d21" stroke="none" stroke-width="1"/>
<rect x="2.40" y="426.60" width="14.50" height="3.20" fill="#458f1d" stroke="none" stroke-width="1"/>
<rect x="2.40" y="429.00" width="14.50" height="3.20" fill="#3f831b" stroke="none" stroke-width="1"/>
<rect x="2.40" y="431.40" width="14.50" height="3.20" fill="#3f831b" stroke="none" stroke-width="1"/>
<rect x="2.40" y="433.80" width="14.50" height="3.20" fill="#458f1d" stroke="none" stroke-width="1"/>
<rect x="2.40" y="436.20" width="14.50" height="3.20" fill="#4b9d20" stroke="none" stroke-width="1"/>
<rect x="2.40" y="438.60" width="14.50" height="3.20" fill="#3f851b" stroke="none" stroke-width="1"/>
<rect x="2.40" y="441.00" width="14.50" height="3.20" fill="#41881c" stroke="none" stroke-width="1"/>
<rect x="2.40" y="443.40" width="14.50" height="3.20" fill="#48961f" stroke="none" stroke-width="1"/>
<rect x="2.40" y="445.80" width="14.50" height="3.20" fill="#4da221" stroke="none" stroke-width="1"/>
<rect x="2.40" y="448.20" width="14.50" height="3.20" fill="#47951e" stroke="none" stroke-width="1"/>
<rect x="2.40" y="450.60" width="14.50" height="3.20" fill="#448e1d" stroke="none" stroke-width="1"/>
<rect x="2.40" y="453.00" width="14.50" height="3.20" fill="#4ea321" stroke="none" stroke-width="1"/>
<rect x="2.40" y="455.40" width="14.50" height="3.20" fill="#3e821b" stroke="none" stroke-width="1"/>
<rect x="2.40" y="457.80" width="14.50" height="3.20" fill="#4c9e21" stroke="none" stroke-width="1"/>
<rect x="2.40" y="460.20" width="14.50" height="3.20" fill="#499320" stroke="none" stroke-width="1"/>
<rect x="2.40" y="462.60" width="14.50" height="3.20" fill="#478e1f" stroke="none" stroke-width="1"/>
<rect x="2.40" y="465.00" width="14.50" height="3.20" fill="#468d1f" stroke="none" stroke-width="1"/>
<rect x="2.40" y="467.40" width="14.50" height="3.20" fill="#4a9420" stroke="none" stroke-width="1"/>
<rect x="2.40" y="469.80" width="14.50" height="3.20" fill="#53a724" stroke="none" stroke-width="1"/>
<rect x="2.40" y="472.20" width="14.50" height="3.20" fill="#478f1f" stroke="none" stroke-width="1"/>
<rect x="2.40" y="474.60" width="14.50" height="3.20" fill="#4f9e22" stroke="none" stroke-width="1"/>
<rect x="2.40" y="477.00" width="14.50" height="3.20" fill="#50a023" stroke="none" stroke-width="1"/>
<rect x="2.40" y="479.40" width="14.50" height="3.20" fill="#4b9721" stroke="none" stroke-width="1"/>
<rect x="2.40" y="481.80" width="14.50" height="3.20" fill="#4e9d22" stroke="none" stroke-width="1"/>
<rect x="2.40" y="484.20" width="14.50" height="3.20" fill="#458b1e" stroke="none" stroke-width="1"/>
<rect x="2.40" y="486.60" width="14.50" height="3.20" fill="#0a2106" stroke="none" stroke-width="1"/>
<rect x="2.40" y="489.00" width="14.50" height="3.20" fill="#1a460e" stroke="none" stroke-width="1"/>
<rect x="2.40" y="491.40" width="14.50" height="3.20" fill="#1d4f0f" stroke="none" stroke-width="1"/>
<rect x="2.40" y="493.80" width="14.50" height="3.20" fill="#1c4a0e" stroke="none" stroke-width="1"/>
<rect x="2.40" y="496.20" width="14.50" height="3.20" fill="#1b480e" stroke="none" stroke-width="1"/>
<rect x="2.40" y="498.60" width="14.50" height="3.20" fill="#1d4d0f" stroke="none" stroke-width="1"/>
<rect x="2.40" y="501.00" width="14.50" height="3.20" fill="#275d12" stroke="none" stroke-width="1"/>
<rect x="2.40" y="503.40" width="14.50" height="3.20" fill="#255a12" stroke="none" stroke-width="1"/>
<rect x="2.40" y="505.80" width="14.50" height="3.20" fill="#2a6514" stroke="none" stroke-width="1"/>
<rect x="2.40" y="508.20" width="14.50" height="3.20" fill="#296313" stroke="none" stroke-width="1"/>
<rect x="2.40" y="510.60" width="14.50" height="3.20" fill="#255911" stroke="none" stroke-width="1"/>
<rect x="2.40" y="513.00" width="14.50" height="3.20" fill="#286013" stroke="none" stroke-width="1"/>
<rect x="2.40" y="515.40" width="14.50" height="3.20" fill="#3d891a" stroke="none" stroke-width="1"/>
<rect x="2.40" y="517.80" width="14.50" height="3.20" fill="#42951c" stroke="none" stroke-width="1"/>
<rect x="2.40" y="520.20" width="14.50" height="3.20" fill="#40901c" stroke="none" stroke-width="1"/>
<rect x="2.40" y="522.60" width="14.50" height="3.20" fill="#398119" stroke="none" stroke-width="1"/>
<rect x="2.40" y="525.00" width="14.50" height="3.20" fill="#43981d" stroke="none" stroke-width="1"/>
<rect x="2.40" y="527.40" width="14.50" height="3.20" fill="#163f0d" stroke="none" stroke-width="1"/>
<rect x="2.40" y="529.80" width="14.50" height="3.20" fill="#18440e" stroke="none" stroke-width="1"/>
<rect x="2.40" y="532.20" width="14.50" height="3.20" fill="#348118" stroke="none" stroke-width="1"/>
<rect x="2.40" y="534.60" width="14.50" height="3.20" fill="#2d6f14" stroke="none" stroke-width="1"/>
<rect x="2.40" y="537.00" width="14.50" height="3.20" fill="#317916" stroke="none" stroke-width="1"/>
<rect x="2.40" y="539.40" width="14.50" height="3.20" fill="#2b6c14" stroke="none" stroke-width="1"/>
<rect x="2.40" y="541.80" width="14.50" height="3.20" fill="#337e17" stroke="none" stroke-width="1"/>
<rect x="2.40" y="544.20" width="14.50" height="3.20" fill="#348118" stroke="none" stroke-width="1"/>
<rect x="2.40" y="546.60" width="14.50" height="3.20" fill="#327b17" stroke="none" stroke-width="1"/>
<rect x="2.40" y="549.00" width="14.50" height="3.20" fill="#358418" stroke="none" stroke-width="1"/>
<rect x="2.40" y="551.40" width="14.50" height="3.20" fill="#2f7415" stroke="none" stroke-width="1"/>
<rect x="2.40" y="553.80" width="14.50" height="3.20" fill="#337f17" stroke="none" stroke-width="1"/>
<rect x="2.40" y="556.20" width="14.50" height="3.20" fill="#327c17" stroke="none" stroke-width="1"/>
<rect x="2.40" y="558.60" width="14.50" height="3.20" fill="#418f1e" stroke="none" stroke-width="1"/>
<rect x="2.40" y="561.00" width="14.50" height="3.20" fill="#3f8b1e" stroke="none" stroke-width="1"/>
<rect x="2.40" y="563.40" width="14.50" height="3.20" fill="#459820" stroke="none" stroke-width="1"/>
<rect x="2.40" y="565.80" width="14.50" height="3.20" fill="#479b21" stroke="none" stroke-width="1"/>
<rect x="2.40" y="568.20" width="14.50" height="3.20" fill="#408b1e" stroke="none" stroke-width="1"/>
<rect x="2.40" y="570.60" width="14.50" height="3.20" fill="#43921f" stroke="none" stroke-width="1"/>
<rect x="2.40" y="573.00" width="14.50" height="3.20" fill="#397d1b" stroke="none" stroke-width="1"/>
<rect x="2.40" y="575.40" width="14.50" height="3.20" fill="#43931f" stroke="none" stroke-width="1"/>
<rect x="2.40" y="577.80" width="14.50" height="3.20" fill="#42911f" stroke="none" stroke-width="1"/>
<rect x="2.40" y="580.20" width="14.50" height="3.20" fill="#489d21" stroke="none" stroke-width="1"/>
<rect x="2.40" y="582.60" width="14.50" height="3.20" fill="#459720" stroke="none" stroke-width="1"/>
<rect x="2.40" y="585.00" width="14.50" height="3.20" fill="#3d851c" stroke="none" stroke-width="1"/>
<rect x="2.40" y="587.40" width="14.50" height="3.20" fill="#3e881d" stroke="none" stroke-width="1"/>
<rect x="2.40" y="589.80" width="14.50" height="3.20" fill="#43921f" stroke="none" stroke-width="1"/>
<rect x="2.40" y="592.20" width="14.50" height="3.20" fill="#235910" stroke="none" stroke-width="1"/>
<rect x="2.40" y="594.60" width="14.50" height="3.20" fill="#276312" stroke="none" stroke-width="1"/>
<rect x="2.40" y="597.00" width="14.50" height="3.20" fill="#245c11" stroke="none" stroke-width="1"/>
<rect x="2.40" y="599.40" width="14.50" height="3.20" fill="#245b11" stroke="none" stroke-width="1"/>
<rect x="2.40" y="601.80" width="14.50" height="3.20" fill="#235a10" stroke="none" stroke-width="1"/>
<rect x="2.40" y="604.20" width="14.50" height="3.20" fill="#2a6b14" stroke="none" stroke-width="1"/>
<rect x="2.40" y="606.60" width="14.50" height="3.20" fill="#245b11" stroke="none" stroke-width="1"/>
<rect x="2.40" y="609.00" width="14.50" height="3.20" fill="#357c18" stroke="none" stroke-width="1"/>
<rect x="2.40" y="611.40" width="14.50" height="3.20" fill="#378119" stroke="none" stroke-width="1"/>
<rect x="2.40" y="613.80" width="14.50" height="3.20" fill="#3e901c" stroke="none" stroke-width="1"/>
<rect x="2.40" y="616.20" width="14.50" height="3.20" fill="#337717" stroke="none" stroke-width="1"/>
<rect x="2.40" y="618.60" width="14.50" height="3.20" fill="#38831a" stroke="none" stroke-width="1"/>
<rect x="2.40" y="621.00" width="14.50" height="3.20" fill="#39861a" stroke="none" stroke-width="1"/>
<rect x="2.40" y="623.40" width="14.50" height="3.20" fill="#3e911d" stroke="none" stroke-width="1"/>
<rect x="2.40" y="625.80" width="14.50" height="3.20" fill="#3d8f1c" stroke="none" stroke-width="1"/>
<rect x="2.40" y="628.20" width="14.50" height="3.20" fill="#3d901c" stroke="none" stroke-width="1"/>
<rect x="2.40" y="630.60" width="14.50" height="3.20" fill="#357d19" stroke="none" stroke-width="1"/>
<rect x="2.40" y="633.00" width="14.50" height="3.20" fill="#37821a" stroke="none" stroke-width="1"/>
<rect x="2.40" y="635.40" width="14.50" height="3.20" fill="#378019" stroke="none" stroke-width="1"/>
<rect x="2.40" y="637.80" width="14.50" height="3.20" fill="#3e911d" stroke="none" stroke-width="1"/>
<rect x="2.40" y="640.20" width="14.50" height="3.20" fill="#3f931d" stroke="none" stroke-width="1"/>
<rect x="2.40" y="642.60" width="14.50" height="3.20" fill="#347918" stroke="none" stroke-width="1"/>
<rect x="2.40" y="645.00" width="14.50" height="0.70" fill="#347a18" stroke="none" stroke-width="1"/>
<rect x="16.30" y="405.00" width="14.50" height="3.20" fill="#18430e" stroke="none" stroke-width="1"/>
<rect x="16.30" y="407.40" width="14.50" height="3.20" fill="#11330a" stroke="none" stroke-width="1"/>
<rect x="16.30" y="409.80" width="14.50" height="3.20" fill="#12360b" stroke="none" stroke-width="1"/>
<rect x="16.30" y="412.20" width="14.50" height="3.20" fill="#1b490f" stroke="none" stroke-width="1"/>
<rect x="16.30" y="414.60" width="14.50" height="3.20" fill="#19440e" stroke="none" stroke-width="1"/>
<rect x="16.30" y="417.00" width="14.50" height="3.20" fill="#173f0d" stroke="none" stroke-width="1"/>
<rect x="16.30" y="419.40" width="14.50" height="3.20" fill="#275912" stroke="none" stroke-width="1"/>
<rect x="16.30" y="421.80" width="14.50" height="3.20" fill="#265812" stroke="none" stroke-width="1"/>
<rect x="16.30" y="424.20" width="14.50" height="3.20" fill="#285c13" stroke="none" stroke-width="1"/>
<rect x="16.30" y="426.60" width="14.50" height="3.20" fill="#3d8619" stroke="none" stroke-width="1"/>
<rect x="16.30" y="429.00" width="14.50" height="3.20" fill="#397f17" stroke="none" stroke-width="1"/>
<rect x="16.30" y="431.40" width="14.50" height="3.20" fill="#377a16" stroke="none" stroke-width="1"/>
<rect x="16.30" y="433.80" width="14.50" height="3.20" fill="#387d17" stroke="none" stroke-width="1"/>
<rect x="16.30" y="436.20" width="14.50" height="3.20" fill="#397e17" stroke="none" stroke-width="1"/>
<rect x="16.30" y="438.60" width="14.50" height="3.20" fill="#316c14" stroke="none" stroke-width="1"/>
<rect x="16.30" y="441.00" width="14.50" height="3.20" fill="#215310" stroke="none" stroke-width="1"/>
<rect x="16.30" y="443.40" width="14.50" height="3.20" fill="#205110" stroke="none" stroke-width="1"/>
<rect x="16.30" y="445.80" width="14.50" height="3.20" fill="#215210" stroke="none" stroke-width="1"/>
<rect x="16.30" y="448.20" width="14.50" height="3.20" fill="#205110" stroke="none" stroke-width="1"/>
<rect x="16.30" y="450.60" width="14.50" height="3.20" fill="#357416" stroke="none" stroke-width="1"/>
<rect x="16.30" y="453.00" width="14.50" height="3.20" fill="#357416" stroke="none" stroke-width="1"/>
<rect x="16.30" y="455.40" width="14.50" height="3.20" fill="#316c14" stroke="none" stroke-width="1"/>
<rect x="16.30" y="457.80" width="14.50" height="3.20" fill="#387b17" stroke="none" stroke-width="1"/>
<rect x="16.30" y="460.20" width="14.50" height="3.20" fill="#337516" stroke="none" stroke-width="1"/>
<rect x="16.30" y="462.60" width="14.50" height="3.20" fill="#337516" stroke="none" stroke-width="1"/>
<rect x="16.30" y="465.00" width="14.50" height="3.20" fill="#357916" stroke="none" stroke-width="1"/>
<rect x="16.30" y="467.40" width="14.50" height="3.20" fill="#347816" stroke="none" stroke-width="1"/>
<rect x="16.30" y="469.80" width="14.50" height="3.20" fill="#367e17" stroke="none" stroke-width="1"/>
<rect x="16.30" y="472.20" width="14.50" height="3.20" fill="#327516" stroke="none" stroke-width="1"/>
<rect x="16.30" y="474.60" width="14.50" height="3.20" fill="#327315" stroke="none" stroke-width="1"/>
<rect x="16.30" y="477.00" width="14.50" height="3.20" fill="#347816" stroke="none" stroke-width="1"/>
<rect x="16.30" y="479.40" width="14.50" height="3.20" fill="#337616" stroke="none" stroke-width="1"/>
<rect x="16.30" y="481.80" width="14.50" height="3.20" fill="#377e17" stroke="none" stroke-width="1"/>
<rect x="16.30" y="484.20" width="14.50" height="3.20" fill="#327415" stroke="none" stroke-width="1"/>
<rect x="16.30" y="486.60" width="14.50" height="3.20" fill="#2b6714" stroke="none" stroke-width="1"/>
<rect x="16.30" y="489.00" width="14.50" height="3.20" fill="#286113" stroke="none" stroke-width="1"/>
<rect x="16.30" y="491.40" width="14.50" height="3.20" fill="#47921f" stroke="none" stroke-width="1"/>
<rect x="16.30" y="493.80" width="14.50" height="3.20" fill="#499620" stroke="none" stroke-width="1"/>
<rect x="16.30" y="496.20" width="14.50" height="3.20" fill="#4b9920" stroke="none" stroke-width="1"/>
<rect x="16.30" y="498.60" width="14.50" height="3.20" fill="#4b9a21" stroke="none" stroke-width="1"/>
<rect x="16.30" y="501.00" width="14.50" height="3.20" fill="#46911f" stroke="none" stroke-width="1"/>
<rect x="16.30" y="503.40" width="14.50" height="3.20" fill="#54ac25" stroke="none" stroke-width="1"/>
<rect x="16.30" y="505.80" width="14.50" height="3.20" fill="#57b226" stroke="none" stroke-width="1"/>
<rect x="16.30" y="508.20" width="14.50" height="3.20" fill="#4d9e21" stroke="none" stroke-width="1"/>
<rect x="16.30" y="510.60" width="14.50" height="3.20" fill="#4d9e22" stroke="none" stroke-width="1"/>
<rect x="16.30" y="513.00" width="14.50" height="3.20" fill="#468f1e" stroke="none" stroke-width="1"/>
<rect x="16.30" y="515.40" width="14.50" height="3.20" fill="#46901e" stroke="none" stroke-width="1"/>
<rect x="16.30" y="517.80" width="14.50" height="3.20" fill="#4a9920" stroke="none" stroke-width="1"/>
<rect x="16.30" y="520.20" width="14.50" height="3.20" fill="#499620" stroke="none" stroke-width="1"/>
<rect x="16.30" y="522.60" width="14.50" height="3.20" fill="#54ac24" stroke="none" stroke-width="1"/>
<rect x="16.30" y="525.00" width="14.50" height="3.20" fill="#47921f" stroke="none" stroke-width="1"/>
<rect x="16.30" y="527.40" width="14.50" height="3.20" fill="#3a7f1a" stroke="none" stroke-width="1"/>
<rect x="16.30" y="529.80" width="14.50" height="3.20" fill="#49a021" stroke="none" stroke-width="1"/>
<rect x="16.30" y="532.20" width="14.50" height="3.20" fill="#42911e" stroke="none" stroke-width="1"/>
<rect x="16.30" y="534.60" width="14.50" height="3.20" fill="#3c841b" stroke="none" stroke-width="1"/>
<rect x="16.30" y="537.00" width="14.50" height="3.20" fill="#43911e" stroke="none" stroke-width="1"/>
<rect x="16.30" y="539.40" width="14.50" height="3.20" fill="#3a801a" stroke="none" stroke-width="1"/>
<rect x="16.30" y="541.80" width="14.50" height="3.20" fill="#42911e" stroke="none" stroke-width="1"/>
<rect x="16.30" y="544.20" width="14.50" height="3.20" fill="#4aa021" stroke="none" stroke-width="1"/>
<rect x="16.30" y="546.60" width="14.50" height="3.20" fill="#489c21" stroke="none" stroke-width="1"/>
<rect x="16.30" y="549.00" width="14.50" height="3.20" fill="#45971f" stroke="none" stroke-width="1"/>
<rect x="16.30" y="551.40" width="14.50" height="3.20" fill="#3e881c" stroke="none" stroke-width="1"/>
<rect x="16.30" y="553.80" width="14.50" height="3.20" fill="#408b1d" stroke="none" stroke-width="1"/>
<rect x="16.30" y="556.20" width="14.50" height="3.20" fill="#3d841b" stroke="none" stroke-width="1"/>
<rect x="16.30" y="558.60" width="14.50" height="3.20" fill="#469920" stroke="none" stroke-width="1"/>
<rect x="16.30" y="561.00" width="14.50" height="3.20" fill="#43911e" stroke="none" stroke-width="1"/>
<rect x="16.30" y="563.40" width="14.50" height="3.20" fill="#469a20" stroke="none" stroke-width="1"/>
<rect x="16.30" y="565.80" width="14.50" height="3.20" fill="#3f8a1d" stroke="none" stroke-width="1"/>
<rect x="16.30" y="568.20" width="14.50" height="3.20" fill="#3e861c" stroke="none" stroke-width="1"/>
<rect x="16.30" y="570.60" width="14.50" height="3.20" fill="#479b20" stroke="none" stroke-width="1"/>
<rect x="16.30" y="573.00" width="14.50" height="3.20" fill="#4aa121" stroke="none" stroke-width="1"/>
<rect x="16.30" y="575.40" width="14.50" height="3.20" fill="#489c20" stroke="none" stroke-width="1"/>
<rect x="16.30" y="577.80" width="14.50" height="3.20" fill="#479b20" stroke="none" stroke-width="1"/>
<rect x="16.30" y="580.20" width="14.50" height="3.20" fill="#479b20" stroke="none" stroke-width="1"/>
<rect x="16.30" y="582.60" width="14.50" height="3.20" fill="#469820" stroke="none" stroke-width="1"/>
<rect x="16.30" y="585.00" width="14.50" height="3.20" fill="#3e861c" stroke="none" stroke-width="1"/>
<rect x="16.30" y="587.40" width="14.50" height="3.20" fill="#42911e" stroke="none" stroke-width="1"/>
<rect x="16.30" y="589.80" width="14.50" height="3.20" fill="#408b1d" stroke="none" stroke-width="1"/>
<rect x="16.30" y="592.20" width="14.50" height="3.20" fill="#40861c" stroke="none" stroke-width="1"/>
<rect x="16.30" y="594.60" width="14.50" height="3.20" fill="#40861c" stroke="none" stroke-width="1"/>
<rect x="16.30" y="597.00" width="14.50" height="3.20" fill="#448f1e" stroke="none" stroke-width="1"/>
<rect x="16.30" y="599.40" width="14.50" height="3.20" fill="#448f1e" stroke="none" stroke-width="1"/>
<rect x="16.30" y="601.80" width="14.50" height="3.20" fill="#4b9f21" stroke="none" stroke-width="1"/>
<rect x="16.30" y="604.20" width="14.50" height="3.20" fill="#2e7115" stroke="none" stroke-width="1"/>
<rect x="16.30" y="606.60" width="14.50" height="3.20" fill="#296512" stroke="none" stroke-width="1"/>
<rect x="16.30" y="609.00" width="14.50" height="3.20" fill="#2e7114" stroke="none" stroke-width="1"/>
<rect x="16.30" y="611.40" width="14.50" height="3.20" fill="#2e7215" stroke="none" stroke-width="1"/>
<rect x="16.30" y="613.80" width="14.50" height="3.20" fill="#3b8b19" stroke="none" stroke-width="1"/>
<rect x="16.30" y="616.20" width="14.50" height="3.20" fill="#337916" stroke="none" stroke-width="1"/>
<rect x="16.30" y="618.60" width="14.50" height="3.20" fill="#317415" stroke="none" stroke-width="1"/>
<rect x="16.30" y="621.00" width="14.50" height="3.20" fill="#317515" stroke="none" stroke-width="1"/>
<rect x="16.30" y="623.40" width="14.50" height="3.20" fill="#317415" stroke="none" stroke-width="1"/>
<rect x="16.30" y="625.80" width="14.50" height="3.20" fill="#317415" stroke="none" stroke-width="1"/>
<rect x="16.30" y="628.20" width="14.50" height="3.20" fill="#296113" stroke="none" stroke-width="1"/>
<rect x="16.30" y="630.60" width="14.50" height="3.20" fill="#2b6814" stroke="none" stroke-width="1"/>
<rect x="16.30" y="633.00" width="14.50" height="3.20" fill="#398718" stroke="none" stroke-width="1"/>
<rect x="16.30" y="635.40" width="14.50" height="3.20" fill="#347c16" stroke="none" stroke-width="1"/>
<rect x="16.30" y="637.80" width="14.50" height="3.20" fill="#378217" stroke="none" stroke-width="1"/>
<rect x="16.30" y="640.20" width="14.50" height="3.20" fill="#398618" stroke="none" stroke-width="1"/>
<rect x="16.30" y="642.60" width="14.50" height="3.20" fill="#2f7014" stroke="none" stroke-width="1"/>
<rect x="16.30" y="645.00" width="14.50" height="0.70" fill="#378217" stroke="none" stroke-width="1"/>
<rect x="30.20" y="405.00" width="14.50" height="3.20" fill="#5fb729" stroke="none" stroke-width="1"/>
<rect x="30.20" y="407.40" width="14.50" height="3.20" fill="#5db228" stroke="none" stroke-width="1"/>
<rect x="30.20" y="409.80" width="14.50" height="3.20" fill="#5cb128" stroke="none" stroke-width="1"/>
<rect x="30.20" y="412.20" width="14.50" height="3.20" fill="#56a625" stroke="none" stroke-width="1"/>
<rect x="30.20" y="414.60" width="14.50" height="3.20" fill="#509a23" stroke="none" stroke-width="1"/>
<rect x="30.20" y="417.00" width="14.50" height="3.20" fill="#5db228" stroke="none" stroke-width="1"/>
<rect x="30.20" y="419.40" width="14.50" height="3.20" fill="#265212" stroke="none" stroke-width="1"/>
<rect x="30.20" y="421.80" width="14.50" height="3.20" fill="#2a5b14" stroke="none" stroke-width="1"/>
<rect x="30.20" y="424.20" width="14.50" height="3.20" fill="#2c5f15" stroke="none" stroke-width="1"/>
<rect x="30.20" y="426.60" width="14.50" height="3.20" fill="#3b8516" stroke="none" stroke-width="1"/>
<rect x="30.20" y="429.00" width="14.50" height="3.20" fill="#3b8516" stroke="none" stroke-width="1"/>
<rect x="30.20" y="431.40" width="14.50" height="3.20" fill="#439719" stroke="none" stroke-width="1"/>
<rect x="30.20" y="433.80" width="14.50" height="3.20" fill="#409018" stroke="none" stroke-width="1"/>
<rect x="30.20" y="436.20" width="14.50" height="3.20" fill="#377d14" stroke="none" stroke-width="1"/>
<rect x="30.20" y="438.60" width="14.50" height="3.20" fill="#377c14" stroke="none" stroke-width="1"/>
<rect x="30.20" y="441.00" width="14.50" height="3.20" fill="#377d14" stroke="none" stroke-width="1"/>
<rect x="30.20" y="443.40" width="14.50" height="3.20" fill="#429619" stroke="none" stroke-width="1"/>
<rect x="30.20" y="445.80" width="14.50" height="3.20" fill="#419218" stroke="none" stroke-width="1"/>
<rect x="30.20" y="448.20" width="14.50" height="3.20" fill="#377d14" stroke="none" stroke-width="1"/>
<rect x="30.20" y="450.60" width="14.50" height="3.20" fill="#419318" stroke="none" stroke-width="1"/>
<rect x="30.20" y="453.00" width="14.50" height="3.20" fill="#439819" stroke="none" stroke-width="1"/>
<rect x="30.20" y="455.40" width="14.50" height="3.20" fill="#3f8d17" stroke="none" stroke-width="1"/>
<rect x="30.20" y="457.80" width="14.50" height="3.20" fill="#3a8315" stroke="none" stroke-width="1"/>
<rect x="30.20" y="460.20" width="14.50" height="3.20" fill="#0b1e09" stroke="none" stroke-width="1"/>
<rect x="30.20" y="462.60" width="14.50" height="3.20" fill="#0a1b08" stroke="none" stroke-width="1"/>
<rect x="30.20" y="465.00" width="14.50" height="3.20" fill="#193e0d" stroke="none" stroke-width="1"/>
<rect x="30.20" y="467.40" width="14.50" height="3.20" fill="#1f4e10" stroke="none" stroke-width="1"/>
<rect x="30.20" y="469.80" width="14.50" height="3.20" fill="#1d480f" stroke="none" stroke-width="1"/>
<rect x="30.20" y="472.20" width="14.50" height="3.20" fill="#1c460f" stroke="none" stroke-width="1"/>
<rect x="30.20" y="474.60" width="14.50" height="3.20" fill="#2e6d14" stroke="none" stroke-width="1"/>
<rect x="30.20" y="477.00" width="14.50" height="3.20" fill="#296112" stroke="none" stroke-width="1"/>
<rect x="30.20" y="479.40" width="14.50" height="3.20" fill="#2d6b14" stroke="none" stroke-width="1"/>
<rect x="30.20" y="481.80" width="14.50" height="3.20" fill="#2d6a14" stroke="none" stroke-width="1"/>
<rect x="30.20" y="484.20" width="14.50" height="3.20" fill="#265b11" stroke="none" stroke-width="1"/>
<rect x="30.20" y="486.60" width="14.50" height="3.20" fill="#17420e" stroke="none" stroke-width="1"/>
<rect x="30.20" y="489.00" width="14.50" height="3.20" fill="#17420e" stroke="none" stroke-width="1"/>
<rect x="30.20" y="491.40" width="14.50" height="3.20" fill="#47921e" stroke="none" stroke-width="1"/>
<rect x="30.20" y="493.80" width="14.50" height="3.20" fill="#4d9f20" stroke="none" stroke-width="1"/>
<rect x="30.20" y="496.20" width="14.50" height="3.20" fill="#2e7217" stroke="none" stroke-width="1"/>
<rect x="30.20" y="498.60" width="14.50" height="3.20" fill="#307718" stroke="none" stroke-width="1"/>
<rect x="30.20" y="501.00" width="14.50" height="3.20" fill="#2d6e16" stroke="none" stroke-width="1"/>
<rect x="30.20" y="503.40" width="14.50" height="3.20" fill="#36851b" stroke="none" stroke-width="1"/>
<rect x="30.20" y="505.80" width="14.50" height="3.20" fill="#2f7517" stroke="none" stroke-width="1"/>
<rect x="30.20" y="508.20" width="14.50" height="3.20" fill="#307818" stroke="none" stroke-width="1"/>
<rect x="30.20" y="510.60" width="14.50" height="3.20" fill="#327c19" stroke="none" stroke-width="1"/>
<rect x="30.20" y="513.00" width="14.50" height="3.20" fill="#36851b" stroke="none" stroke-width="1"/>
<rect x="30.20" y="515.40" width="14.50" height="3.20" fill="#307718" stroke="none" stroke-width="1"/>
<rect x="30.20" y="517.80" width="14.50" height="3.20" fill="#36851b" stroke="none" stroke-width="1"/>
<rect x="30.20" y="520.20" width="14.50" height="3.20" fill="#317918" stroke="none" stroke-width="1"/>
<rect x="30.20" y="522.60" width="14.50" height="3.20" fill="#317a18" stroke="none" stroke-width="1"/>
<rect x="30.20" y="525.00" width="14.50" height="3.20" fill="#317a18" stroke="none" stroke-width="1"/>
<rect x="30.20" y="527.40" width="14.50" height="3.20" fill="#397c1a" stroke="none" stroke-width="1"/>
<rect x="30.20" y="529.80" width="14.50" height="3.20" fill="#3f8a1d" stroke="none" stroke-width="1"/>
<rect x="30.20" y="532.20" width="14.50" height="3.20" fill="#3b811c" stroke="none" stroke-width="1"/>
<rect x="30.20" y="534.60" width="14.50" height="3.20" fill="#387b1a" stroke="none" stroke-width="1"/>
<rect x="30.20" y="537.00" width="14.50" height="3.20" fill="#459620" stroke="none" stroke-width="1"/>
<rect x="30.20" y="539.40" width="14.50" height="3.20" fill="#3b811c" stroke="none" stroke-width="1"/>
<rect x="30.20" y="541.80" width="14.50" height="3.20" fill="#408b1e" stroke="none" stroke-width="1"/>
<rect x="30.20" y="544.20" width="14.50" height="3.20" fill="#449420" stroke="none" stroke-width="1"/>
<rect x="30.20" y="546.60" width="14.50" height="3.20" fill="#418e1e" stroke="none" stroke-width="1"/>
<rect x="30.20" y="549.00" width="14.50" height="3.20" fill="#3d861d" stroke="none" stroke-width="1"/>
<rect x="30.20" y="551.40" width="14.50" height="3.20" fill="#408d1e" stroke="none" stroke-width="1"/>
<rect x="30.20" y="553.80" width="14.50" height="3.20" fill="#418e1e" stroke="none" stroke-width="1"/>
<rect x="30.20" y="556.20" width="14.50" height="3.20" fill="#459620" stroke="none" stroke-width="1"/>
<rect x="30.20" y="558.60" width="14.50" height="3.20" fill="#3a7f1b" stroke="none" stroke-width="1"/>
<rect x="30.20" y="561.00" width="14.50" height="3.20" fill="#418e1e" stroke="none" stroke-width="1"/>
<rect x="30.20" y="563.40" width="14.50" height="3.20" fill="#3c841c" stroke="none" stroke-width="1"/>
<rect x="30.20" y="565.80" width="14.50" height="3.20" fill="#347a17" stroke="none" stroke-width="1"/>
<rect x="30.20" y="568.20" width="14.50" height="3.20" fill="#3a891a" stroke="none" stroke-width="1"/>
<rect x="30.20" y="570.60" width="14.50" height="3.20" fill="#378118" stroke="none" stroke-width="1"/>
<rect x="30.20" y="573.00" width="14.50" height="3.20" fill="#378319" stroke="none" stroke-width="1"/>
<rect x="30.20" y="575.40" width="14.50" height="3.20" fill="#3a891a" stroke="none" stroke-width="1"/>
<rect x="30.20" y="577.80" width="14.50" height="3.20" fill="#2d7014" stroke="none" stroke-width="1"/>
<rect x="30.20" y="580.20" width="14.50" height="3.20" fill="#296512" stroke="none" stroke-width="1"/>
<rect x="30.20" y="582.60" width="14.50" height="3.20" fill="#3c8a1b" stroke="none" stroke-width="1"/>
<rect x="30.20" y="585.00" width="14.50" height="3.20" fill="#3a871a" stroke="none" stroke-width="1"/>
<rect x="30.20" y="587.40" width="14.50" height="3.20" fill="#3b871a" stroke="none" stroke-width="1"/>
<rect x="30.20" y="589.80" width="14.50" height="3.20" fill="#3d8d1b" stroke="none" stroke-width="1"/>
<rect x="30.20" y="592.20" width="14.50" height="3.20" fill="#3a851a" stroke="none" stroke-width="1"/>
<rect x="30.20" y="594.60" width="14.50" height="3.20" fill="#3b871a" stroke="none" stroke-width="1"/>
<rect x="30.20" y="597.00" width="14.50" height="3.20" fill="#3a861a" stroke="none" stroke-width="1"/>
<rect x="30.20" y="599.40" width="14.50" height="3.20" fill="#41951d" stroke="none" stroke-width="1"/>
<rect x="30.20" y="601.80" width="14.50" height="3.20" fill="#3d8d1b" stroke="none" stroke-width="1"/>
<rect x="30.20" y="604.20" width="14.50" height="3.20" fill="#40931d" stroke="none" stroke-width="1"/>
<rect x="30.20" y="606.60" width="14.50" height="3.20" fill="#41951d" stroke="none" stroke-width="1"/>
<rect x="30.20" y="609.00" width="14.50" height="3.20" fill="#377f19" stroke="none" stroke-width="1"/>
<rect x="30.20" y="611.40" width="14.50" height="3.20" fill="#499e20" stroke="none" stroke-width="1"/>
<rect x="30.20" y="613.80" width="14.50" height="3.20" fill="#4fac23" stroke="none" stroke-width="1"/>
<rect x="30.20" y="616.20" width="14.50" height="3.20" fill="#4ea822" stroke="none" stroke-width="1"/>
<rect x="30.20" y="618.60" width="14.50" height="3.20" fill="#418e1d" stroke="none" stroke-width="1"/>
<rect x="30.20" y="621.00" width="14.50" height="3.20" fill="#418d1d" stroke="none" stroke-width="1"/>
<rect x="30.20" y="623.40" width="14.50" height="3.20" fill="#47991f" stroke="none" stroke-width="1"/>
<rect x="30.20" y="625.80" width="14.50" height="3.20" fill="#408b1c" stroke="none" stroke-width="1"/>
<rect x="30.20" y="628.20" width="14.50" height="3.20" fill="#43921e" stroke="none" stroke-width="1"/>
<rect x="30.20" y="630.60" width="14.50" height="3.20" fill="#408b1c" stroke="none" stroke-width="1"/>
<rect x="30.20" y="633.00" width="14.50" height="3.20" fill="#4ba221" stroke="none" stroke-width="1"/>
<rect x="30.20" y="635.40" width="14.50" height="3.20" fill="#3a8a1a" stroke="none" stroke-width="1"/>
<rect x="30.20" y="637.80" width="14.50" height="3.20" fill="#3c8d1b" stroke="none" stroke-width="1"/>
<rect x="30.20" y="640.20" width="14.50" height="3.20" fill="#327616" stroke="none" stroke-width="1"/>
<rect x="30.20" y="642.60" width="14.50" height="3.20" fill="#398719" stroke="none" stroke-width="1"/>
<rect x="30.20" y="645.00" width="14.50" height="0.70" fill="#398619" stroke="none" stroke-width="1"/>
<rect x="44.10" y="405.00" width="14.50" height="3.20" fill="#8e1f0f" stroke="none" stroke-width="1"/>
<rect x="44.10" y="407.40" width="14.50" height="3.20" fill="#aa2512" stroke="none" stroke-width="1"/>
<rect x="44.10" y="409.80" width="14.50" height="3.20" fill="#ad2512" stroke="none" stroke-width="1"/>
<rect x="44.10" y="412.20" width="14.50" height="3.20" fill="#911f0f" stroke="none" stroke-width="1"/>
<rect x="44.10" y="414.60" width="14.50" height="3.20" fill="#ad2512" stroke="none" stroke-width="1"/>
<rect x="44.10" y="417.00" width="14.50" height="3.20" fill="#c02715" stroke="none" stroke-width="1"/>
<rect x="44.10" y="419.40" width="14.50" height="3.20" fill="#c42816" stroke="none" stroke-width="1"/>
<rect x="44.10" y="421.80" width="14.50" height="3.20" fill="#dc2d18" stroke="none" stroke-width="1"/>
<rect x="44.10" y="424.20" width="14.50" height="3.20" fill="#d42c17" stroke="none" stroke-width="1"/>
<rect x="44.10" y="426.60" width="14.50" height="3.20" fill="#95200f" stroke="none" stroke-width="1"/>
<rect x="44.10" y="429.00" width="14.50" height="3.20" fill="#a02310" stroke="none" stroke-width="1"/>
<rect x="44.10" y="431.40" width="14.50" height="3.20" fill="#a32311" stroke="none" stroke-width="1"/>
<rect x="44.10" y="433.80" width="14.50" height="3.20" fill="#9c2210" stroke="none" stroke-width="1"/>
<rect x="44.10" y="436.20" width="14.50" height="3.20" fill="#97210f" stroke="none" stroke-width="1"/>
<rect x="44.10" y="438.60" width="14.50" height="3.20" fill="#9c2210" stroke="none" stroke-width="1"/>
<rect x="44.10" y="441.00" width="14.50" height="3.20" fill="#ab2511" stroke="none" stroke-width="1"/>
<rect x="44.10" y="443.40" width="14.50" height="3.20" fill="#901f0f" stroke="none" stroke-width="1"/>
<rect x="44.10" y="445.80" width="14.50" height="3.20" fill="#c02714" stroke="none" stroke-width="1"/>
<rect x="44.10" y="448.20" width="14.50" height="3.20" fill="#bb2614" stroke="none" stroke-width="1"/>
<rect x="44.10" y="450.60" width="14.50" height="3.20" fill="#a82212" stroke="none" stroke-width="1"/>
<rect x="44.10" y="453.00" width="14.50" height="3.20" fill="#b62513" stroke="none" stroke-width="1"/>
<rect x="44.10" y="455.40" width="14.50" height="3.20" fill="#c42815" stroke="none" stroke-width="1"/>
<rect x="44.10" y="457.80" width="14.50" height="3.20" fill="#be2714" stroke="none" stroke-width="1"/>
<rect x="44.10" y="460.20" width="14.50" height="3.20" fill="#500f0c" stroke="none" stroke-width="1"/>
<rect x="44.10" y="462.60" width="14.50" height="3.20" fill="#64120f" stroke="none" stroke-width="1"/>
<rect x="44.10" y="465.00" width="14.50" height="3.20" fill="#60120e" stroke="none" stroke-width="1"/>
<rect x="44.10" y="467.40" width="14.50" height="3.20" fill="#64120f" stroke="none" stroke-width="1"/>
<rect x="44.10" y="469.80" width="14.50" height="3.20" fill="#510f0c" stroke="none" stroke-width="1"/>
<rect x="44.10" y="472.20" width="14.50" height="3.20" fill="#460c09" stroke="none" stroke-width="1"/>
<rect x="44.10" y="474.60" width="14.50" height="3.20" fill="#420c09" stroke="none" stroke-width="1"/>
<rect x="44.10" y="477.00" width="14.50" height="3.20" fill="#4f0e0a" stroke="none" stroke-width="1"/>
<rect x="44.10" y="479.40" width="14.50" height="3.20" fill="#460c09" stroke="none" stroke-width="1"/>
<rect x="44.10" y="481.80" width="14.50" height="3.20" fill="#440c09" stroke="none" stroke-width="1"/>
<rect x="44.10" y="484.20" width="14.50" height="3.20" fill="#490d0a" stroke="none" stroke-width="1"/>
<rect x="44.10" y="486.60" width="14.50" height="3.20" fill="#3c7f1d" stroke="none" stroke-width="1"/>
<rect x="44.10" y="489.00" width="14.50" height="3.20" fill="#3b7c1c" stroke="none" stroke-width="1"/>
<rect x="44.10" y="491.40" width="14.50" height="3.20" fill="#54100c" stroke="none" stroke-width="1"/>
<rect x="44.10" y="493.80" width="14.50" height="3.20" fill="#520f0c" stroke="none" stroke-width="1"/>
<rect x="44.10" y="496.20" width="14.50" height="3.20" fill="#63120e" stroke="none" stroke-width="1"/>
<rect x="44.10" y="498.60" width="14.50" height="3.20" fill="#5b110d" stroke="none" stroke-width="1"/>
<rect x="44.10" y="501.00" width="14.50" height="3.20" fill="#2a0708" stroke="none" stroke-width="1"/>
<rect x="44.10" y="503.40" width="14.50" height="3.20" fill="#240607" stroke="none" stroke-width="1"/>
<rect x="44.10" y="505.80" width="14.50" height="3.20" fill="#240607" stroke="none" stroke-width="1"/>
<rect x="44.10" y="508.20" width="14.50" height="3.20" fill="#510f0c" stroke="none" stroke-width="1"/>
<rect x="44.10" y="510.60" width="14.50" height="3.20" fill="#4c0f0b" stroke="none" stroke-width="1"/>
<rect x="44.10" y="513.00" width="14.50" height="3.20" fill="#460d0a" stroke="none" stroke-width="1"/>
<rect x="44.10" y="515.40" width="14.50" height="3.20" fill="#56100d" stroke="none" stroke-width="1"/>
<rect x="44.10" y="517.80" width="14.50" height="3.20" fill="#500f0c" stroke="none" stroke-width="1"/>
<rect x="44.10" y="520.20" width="14.50" height="3.20" fill="#53100c" stroke="none" stroke-width="1"/>
<rect x="44.10" y="522.60" width="14.50" height="3.20" fill="#460d0a" stroke="none" stroke-width="1"/>
<rect x="44.10" y="525.00" width="14.50" height="3.20" fill="#54100c" stroke="none" stroke-width="1"/>
<rect x="44.10" y="527.40" width="14.50" height="3.20" fill="#3c0c09" stroke="none" stroke-width="1"/>
<rect x="44.10" y="529.80" width="14.50" height="3.20" fill="#490e0b" stroke="none" stroke-width="1"/>
<rect x="44.10" y="532.20" width="14.50" height="3.20" fill="#430d0a" stroke="none" stroke-width="1"/>
<rect x="44.10" y="534.60" width="14.50" height="3.20" fill="#410d09" stroke="none" stroke-width="1"/>
<rect x="44.10" y="537.00" width="14.50" height="3.20" fill="#440d0a" stroke="none" stroke-width="1"/>
<rect x="44.10" y="539.40" width="14.50" height="3.20" fill="#4a0e0b" stroke="none" stroke-width="1"/>
<rect x="44.10" y="541.80" width="14.50" height="3.20" fill="#400c09" stroke="none" stroke-width="1"/>
<rect x="44.10" y="544.20" width="14.50" height="3.20" fill="#3d0c09" stroke="none" stroke-width="1"/>
<rect x="44.10" y="546.60" width="14.50" height="3.20" fill="#440d0a" stroke="none" stroke-width="1"/>
<rect x="44.10" y="549.00" width="14.50" height="3.20" fill="#3f0c09" stroke="none" stroke-width="1"/>
<rect x="44.10" y="551.40" width="14.50" height="3.20" fill="#3d0c09" stroke="none" stroke-width="1"/>
<rect x="44.10" y="553.80" width="14.50" height="3.20" fill="#3e0c09" stroke="none" stroke-width="1"/>
<rect x="44.10" y="556.20" width="14.50" height="3.20" fill="#3c0c09" stroke="none" stroke-width="1"/>
<rect x="44.10" y="558.60" width="14.50" height="3.20" fill="#84190e" stroke="none" stroke-width="1"/>
<rect x="44.10" y="561.00" width="14.50" height="3.20" fill="#88190e" stroke="none" stroke-width="1"/>
<rect x="44.10" y="563.40" width="14.50" height="3.20" fill="#88190e" stroke="none" stroke-width="1"/>
<rect x="44.10" y="565.80" width="14.50" height="3.20" fill="#971c10" stroke="none" stroke-width="1"/>
<rect x="44.10" y="568.20" width="14.50" height="3.20" fill="#67130b" stroke="none" stroke-width="1"/>
<rect x="44.10" y="570.60" width="14.50" height="3.20" fill="#6c140b" stroke="none" stroke-width="1"/>
<rect x="44.10" y="573.00" width="14.50" height="3.20" fill="#64120a" stroke="none" stroke-width="1"/>
<rect x="44.10" y="575.40" width="14.50" height="3.20" fill="#68130b" stroke="none" stroke-width="1"/>
<rect x="44.10" y="577.80" width="14.50" height="3.20" fill="#60120a" stroke="none" stroke-width="1"/>
<rect x="44.10" y="580.20" width="14.50" height="3.20" fill="#66130b" stroke="none" stroke-width="1"/>
<rect x="44.10" y="582.60" width="14.50" height="3.20" fill="#60120a" stroke="none" stroke-width="1"/>
<rect x="44.10" y="585.00" width="14.50" height="3.20" fill="#72150c" stroke="none" stroke-width="1"/>
<rect x="44.10" y="587.40" width="14.50" height="3.20" fill="#6e140c" stroke="none" stroke-width="1"/>
<rect x="44.10" y="589.80" width="14.50" height="3.20" fill="#64120b" stroke="none" stroke-width="1"/>
<rect x="44.10" y="592.20" width="14.50" height="3.20" fill="#8d1b0f" stroke="none" stroke-width="1"/>
<rect x="44.10" y="594.60" width="14.50" height="3.20" fill="#9d1e10" stroke="none" stroke-width="1"/>
<rect x="44.10" y="597.00" width="14.50" height="3.20" fill="#81180d" stroke="none" stroke-width="1"/>
<rect x="44.10" y="599.40" width="14.50" height="3.20" fill="#991d10" stroke="none" stroke-width="1"/>
<rect x="44.10" y="601.80" width="14.50" height="3.20" fill="#8c1a0f" stroke="none" stroke-width="1"/>
<rect x="44.10" y="604.20" width="14.50" height="3.20" fill="#8e1b0f" stroke="none" stroke-width="1"/>
<rect x="44.10" y="606.60" width="14.50" height="3.20" fill="#9a1d10" stroke="none" stroke-width="1"/>
<rect x="44.10" y="609.00" width="14.50" height="3.20" fill="#8b1a0e" stroke="none" stroke-width="1"/>
<rect x="44.10" y="611.40" width="14.50" height="3.20" fill="#84190d" stroke="none" stroke-width="1"/>
<rect x="44.10" y="613.80" width="14.50" height="3.20" fill="#8a1a0e" stroke="none" stroke-width="1"/>
<rect x="44.10" y="616.20" width="14.50" height="3.20" fill="#931c0f" stroke="none" stroke-width="1"/>
<rect x="44.10" y="618.60" width="14.50" height="3.20" fill="#7f180d" stroke="none" stroke-width="1"/>
<rect x="44.10" y="621.00" width="14.50" height="3.20" fill="#8f1b0e" stroke="none" stroke-width="1"/>
<rect x="44.10" y="623.40" width="14.50" height="3.20" fill="#8b1a0e" stroke="none" stroke-width="1"/>
<rect x="44.10" y="625.80" width="14.50" height="3.20" fill="#881a0e" stroke="none" stroke-width="1"/>
<rect x="44.10" y="628.20" width="14.50" height="3.20" fill="#81180d" stroke="none" stroke-width="1"/>
<rect x="44.10" y="630.60" width="14.50" height="3.20" fill="#7f180d" stroke="none" stroke-width="1"/>
<rect x="44.10" y="633.00" width="14.50" height="3.20" fill="#76160c" stroke="none" stroke-width="1"/>
<rect x="44.10" y="635.40" width="14.50" height="3.20" fill="#78170c" stroke="none" stroke-width="1"/>
<rect x="44.10" y="637.80" width="14.50" height="3.20" fill="#76160c" stroke="none" stroke-width="1"/>
<rect x="44.10" y="640.20" width="14.50" height="3.20" fill="#8c1a0e" stroke="none" stroke-width="1"/>
<rect x="44.10" y="642.60" width="14.50" height="3.20" fill="#7c180c" stroke="none" stroke-width="1"/>
<rect x="44.10" y="645.00" width="14.50" height="0.70" fill="#79170c" stroke="none" stroke-width="1"/>
<rect x="58.00" y="405.00" width="14.40" height="3.20" fill="#69130c" stroke="none" stroke-width="1"/>
<rect x="58.00" y="407.40" width="14.40" height="3.20" fill="#7e170e" stroke="none" stroke-width="1"/>
<rect x="58.00" y="409.80" width="14.40" height="3.20" fill="#941b0e" stroke="none" stroke-width="1"/>
<rect x="58.00" y="412.20" width="14.40" height="3.20" fill="#8d1a0e" stroke="none" stroke-width="1"/>
<rect x="58.00" y="414.60" width="14.40" height="3.20" fill="#80180c" stroke="none" stroke-width="1"/>
<rect x="58.00" y="417.00" width="14.40" height="3.20" fill="#7f170c" stroke="none" stroke-width="1"/>
<rect x="58.00" y="419.40" width="14.40" height="3.20" fill="#255115" stroke="none" stroke-width="1"/>
<rect x="58.00" y="421.80" width="14.40" height="3.20" fill="#275416" stroke="none" stroke-width="1"/>
<rect x="58.00" y="424.20" width="14.40" height="3.20" fill="#3e0c09" stroke="none" stroke-width="1"/>
<rect x="58.00" y="426.60" width="14.40" height="3.20" fill="#430d0a" stroke="none" stroke-width="1"/>
<rect x="58.00" y="429.00" width="14.40" height="3.20" fill="#400c09" stroke="none" stroke-width="1"/>
<rect x="58.00" y="431.40" width="14.40" height="3.20" fill="#4b0f0b" stroke="none" stroke-width="1"/>
<rect x="58.00" y="433.80" width="14.40" height="3.20" fill="#4b0f0b" stroke="none" stroke-width="1"/>
<rect x="58.00" y="436.20" width="14.40" height="3.20" fill="#440d0a" stroke="none" stroke-width="1"/>
<rect x="58.00" y="438.60" width="14.40" height="3.20" fill="#3f0c09" stroke="none" stroke-width="1"/>
<rect x="58.00" y="441.00" width="14.40" height="3.20" fill="#4b0f0b" stroke="none" stroke-width="1"/>
<rect x="58.00" y="443.40" width="14.40" height="3.20" fill="#400c09" stroke="none" stroke-width="1"/>
<rect x="58.00" y="445.80" width="14.40" height="3.20" fill="#410d09" stroke="none" stroke-width="1"/>
<rect x="58.00" y="448.20" width="14.40" height="3.20" fill="#1f0e11" stroke="none" stroke-width="1"/>
<rect x="58.00" y="450.60" width="14.40" height="3.20" fill="#221013" stroke="none" stroke-width="1"/>
<rect x="58.00" y="453.00" width="14.40" height="3.20" fill="#51100b" stroke="none" stroke-width="1"/>
<rect x="58.00" y="455.40" width="14.40" height="3.20" fill="#51110b" stroke="none" stroke-width="1"/>
<rect x="58.00" y="457.80" width="14.40" height="3.20" fill="#4b0f0b" stroke="none" stroke-width="1"/>
<rect x="58.00" y="460.20" width="14.40" height="3.20" fill="#18180b" stroke="none" stroke-width="1"/>
<rect x="58.00" y="462.60" width="14.40" height="3.20" fill="#15150a" stroke="none" stroke-width="1"/>
<rect x="58.00" y="465.00" width="14.40" height="3.20" fill="#17170a" stroke="none" stroke-width="1"/>
<rect x="58.00" y="467.40" width="14.40" height="3.20" fill="#16160a" stroke="none" stroke-width="1"/>
<rect x="58.00" y="469.80" width="14.40" height="3.20" fill="#18180b" stroke="none" stroke-width="1"/>
<rect x="58.00" y="472.20" width="14.40" height="3.20" fill="#440c09" stroke="none" stroke-width="1"/>
<rect x="58.00" y="474.60" width="14.40" height="3.20" fill="#430c09" stroke="none" stroke-width="1"/>
<rect x="58.00" y="477.00" width="14.40" height="3.20" fill="#480c09" stroke="none" stroke-width="1"/>
<rect x="58.00" y="479.40" width="14.40" height="3.20" fill="#470c09" stroke="none" stroke-width="1"/>
<rect x="58.00" y="481.80" width="14.40" height="3.20" fill="#4e0d0a" stroke="none" stroke-width="1"/>
<rect x="58.00" y="484.20" width="14.40" height="3.20" fill="#cd2f1b" stroke="none" stroke-width="1"/>
<rect x="58.00" y="486.60" width="14.40" height="3.20" fill="#d8321c" stroke="none" stroke-width="1"/>
<rect x="58.00" y="489.00" width="14.40" height="3.20" fill="#d3311c" stroke="none" stroke-width="1"/>
<rect x="58.00" y="491.40" width="14.40" height="3.20" fill="#7b170e" stroke="none" stroke-width="1"/>
<rect x="58.00" y="493.80" width="14.40" height="3.20" fill="#7f180e" stroke="none" stroke-width="1"/>
<rect x="58.00" y="496.20" width="14.40" height="3.20" fill="#72150d" stroke="none" stroke-width="1"/>
<rect x="58.00" y="498.60" width="14.40" height="3.20" fill="#70150d" stroke="none" stroke-width="1"/>
<rect x="58.00" y="501.00" width="14.40" height="3.20" fill="#9f2012" stroke="none" stroke-width="1"/>
<rect x="58.00" y="503.40" width="14.40" height="3.20" fill="#821a0f" stroke="none" stroke-width="1"/>
<rect x="58.00" y="505.80" width="14.40" height="3.20" fill="#961e11" stroke="none" stroke-width="1"/>
<rect x="58.00" y="508.20" width="14.40" height="3.20" fill="#931d11" stroke="none" stroke-width="1"/>
<rect x="58.00" y="510.60" width="14.40" height="3.20" fill="#7f190f" stroke="none" stroke-width="1"/>
<rect x="58.00" y="513.00" width="14.40" height="3.20" fill="#9a1f12" stroke="none" stroke-width="1"/>
<rect x="58.00" y="515.40" width="14.40" height="3.20" fill="#9c1f12" stroke="none" stroke-width="1"/>
<rect x="58.00" y="517.80" width="14.40" height="3.20" fill="#931d11" stroke="none" stroke-width="1"/>
<rect x="58.00" y="520.20" width="14.40" height="3.20" fill="#961e11" stroke="none" stroke-width="1"/>
<rect x="58.00" y="522.60" width="14.40" height="3.20" fill="#991f12" stroke="none" stroke-width="1"/>
<rect x="58.00" y="525.00" width="14.40" height="3.20" fill="#821a0f" stroke="none" stroke-width="1"/>
<rect x="58.00" y="527.40" width="14.40" height="3.20" fill="#b82512" stroke="none" stroke-width="1"/>
<rect x="58.00" y="529.80" width="14.40" height="3.20" fill="#b72512" stroke="none" stroke-width="1"/>
<rect x="58.00" y="532.20" width="14.40" height="3.20" fill="#c62814" stroke="none" stroke-width="1"/>
<rect x="58.00" y="534.60" width="14.40" height="3.20" fill="#c52814" stroke="none" stroke-width="1"/>
<rect x="58.00" y="537.00" width="14.40" height="3.20" fill="#c52814" stroke="none" stroke-width="1"/>
<rect x="58.00" y="539.40" width="14.40" height="3.20" fill="#bb2613" stroke="none" stroke-width="1"/>
<rect x="58.00" y="541.80" width="14.40" height="3.20" fill="#c82814" stroke="none" stroke-width="1"/>
<rect x="58.00" y="544.20" width="14.40" height="3.20" fill="#9c1f11" stroke="none" stroke-width="1"/>
<rect x="58.00" y="546.60" width="14.40" height="3.20" fill="#9c2011" stroke="none" stroke-width="1"/>
<rect x="58.00" y="549.00" width="14.40" height="3.20" fill="#8b1c0f" stroke="none" stroke-width="1"/>
<rect x="58.00" y="551.40" width="14.40" height="3.20" fill="#841b0f" stroke="none" stroke-width="1"/>
<rect x="58.00" y="553.80" width="14.40" height="3.20" fill="#881b0f" stroke="none" stroke-width="1"/>
<rect x="58.00" y="556.20" width="14.40" height="3.20" fill="#901d10" stroke="none" stroke-width="1"/>
<rect x="58.00" y="558.60" width="14.40" height="3.20" fill="#490d09" stroke="none" stroke-width="1"/>
<rect x="58.00" y="561.00" width="14.40" height="3.20" fill="#58100b" stroke="none" stroke-width="1"/>
<rect x="58.00" y="563.40" width="14.40" height="3.20" fill="#520f0a" stroke="none" stroke-width="1"/>
<rect x="58.00" y="565.80" width="14.40" height="3.20" fill="#540f0a" stroke="none" stroke-width="1"/>
<rect x="58.00" y="568.20" width="14.40" height="3.20" fill="#540f0a" stroke="none" stroke-width="1"/>
<rect x="58.00" y="570.60" width="14.40" height="3.20" fill="#7a170c" stroke="none" stroke-width="1"/>
<rect x="58.00" y="573.00" width="14.40" height="3.20" fill="#74160b" stroke="none" stroke-width="1"/>
<rect x="58.00" y="575.40" width="14.40" height="3.20" fill="#67130a" stroke="none" stroke-width="1"/>
<rect x="58.00" y="577.80" width="14.40" height="3.20" fill="#7d170c" stroke="none" stroke-width="1"/>
<rect x="58.00" y="580.20" width="14.40" height="3.20" fill="#7c170c" stroke="none" stroke-width="1"/>
<rect x="58.00" y="582.60" width="14.40" height="3.20" fill="#75160b" stroke="none" stroke-width="1"/>
<rect x="58.00" y="585.00" width="14.40" height="3.20" fill="#76160c" stroke="none" stroke-width="1"/>
<rect x="58.00" y="587.40" width="14.40" height="3.20" fill="#79160c" stroke="none" stroke-width="1"/>
<rect x="58.00" y="589.80" width="14.40" height="3.20" fill="#69130a" stroke="none" stroke-width="1"/>
<rect x="58.00" y="592.20" width="14.40" height="3.20" fill="#6d130c" stroke="none" stroke-width="1"/>
<rect x="58.00" y="594.60" width="14.40" height="3.20" fill="#61110b" stroke="none" stroke-width="1"/>
<rect x="58.00" y="597.00" width="14.40" height="3.20" fill="#5d100a" stroke="none" stroke-width="1"/>
<rect x="58.00" y="599.40" width="14.40" height="3.20" fill="#61110b" stroke="none" stroke-width="1"/>
<rect x="58.00" y="601.80" width="14.40" height="3.20" fill="#9d2011" stroke="none" stroke-width="1"/>
<rect x="58.00" y="604.20" width="14.40" height="3.20" fill="#8b1c0f" stroke="none" stroke-width="1"/>
<rect x="58.00" y="606.60" width="14.40" height="3.20" fill="#9e2011" stroke="none" stroke-width="1"/>
<rect x="58.00" y="609.00" width="14.40" height="3.20" fill="#a62212" stroke="none" stroke-width="1"/>
<rect x="58.00" y="611.40" width="14.40" height="3.20" fill="#951e10" stroke="none" stroke-width="1"/>
<rect x="58.00" y="613.80" width="14.40" height="3.20" fill="#911d10" stroke="none" stroke-width="1"/>
<rect x="58.00" y="616.20" width="14.40" height="3.20" fill="#8a1b0f" stroke="none" stroke-width="1"/>
<rect x="58.00" y="618.60" width="14.40" height="3.20" fill="#911c0f" stroke="none" stroke-width="1"/>
<rect x="58.00" y="621.00" width="14.40" height="3.20" fill="#941c10" stroke="none" stroke-width="1"/>
<rect x="58.00" y="623.40" width="14.40" height="3.20" fill="#8f1b0f" stroke="none" stroke-width="1"/>
<rect x="58.00" y="625.80" width="14.40" height="3.20" fill="#901c0f" stroke="none" stroke-width="1"/>
<rect x="58.00" y="628.20" width="14.40" height="3.20" fill="#7d180d" stroke="none" stroke-width="1"/>
<rect x="58.00" y="630.60" width="14.40" height="3.20" fill="#7f180e" stroke="none" stroke-width="1"/>
<rect x="58.00" y="633.00" width="14.40" height="3.20" fill="#83190e" stroke="none" stroke-width="1"/>
<rect x="58.00" y="635.40" width="14.40" height="3.20" fill="#931c10" stroke="none" stroke-width="1"/>
<rect x="58.00" y="637.80" width="14.40" height="3.20" fill="#84190e" stroke="none" stroke-width="1"/>
<rect x="58.00" y="640.20" width="14.40" height="3.20" fill="#8d1b0f" stroke="none" stroke-width="1"/>
<rect x="58.00" y="642.60" width="14.40" height="3.20" fill="#7b180d" stroke="none" stroke-width="1"/>
<rect x="58.00" y="645.00" width="14.40" height="0.70" fill="#7c180d" stroke="none" stroke-width="1"/>
<rect x="71.80" y="405.00" width="13.80" height="3.20" fill="#3b0c09" stroke="none" stroke-width="1"/>
<rect x="71.80" y="407.40" width="13.80" height="3.20" fill="#410e0a" stroke="none" stroke-width="1"/>
<rect x="71.80" y="409.80" width="13.80" height="3.20" fill="#330a08" stroke="none" stroke-width="1"/>
<rect x="71.80" y="412.20" width="13.80" height="3.20" fill="#330a08" stroke="none" stroke-width="1"/>
<rect x="71.80" y="414.60" width="13.80" height="3.20" fill="#2e190c" stroke="none" stroke-width="1"/>
<rect x="71.80" y="417.00" width="13.80" height="3.20" fill="#311b0d" stroke="none" stroke-width="1"/>
<rect x="71.80" y="419.40" width="13.80" height="3.20" fill="#8d1a0f" stroke="none" stroke-width="1"/>
<rect x="71.80" y="421.80" width="13.80" height="3.20" fill="#8d1a0f" stroke="none" stroke-width="1"/>
<rect x="71.80" y="424.20" width="13.80" height="3.20" fill="#81180d" stroke="none" stroke-width="1"/>
<rect x="71.80" y="426.60" width="13.80" height="3.20" fill="#9c1d10" stroke="none" stroke-width="1"/>
<rect x="71.80" y="429.00" width="13.80" height="3.20" fill="#84190e" stroke="none" stroke-width="1"/>
<rect x="71.80" y="431.40" width="13.80" height="3.20" fill="#9f1e11" stroke="none" stroke-width="1"/>
<rect x="71.80" y="433.80" width="13.80" height="3.20" fill="#9d1e10" stroke="none" stroke-width="1"/>
<rect x="71.80" y="436.20" width="13.80" height="3.20" fill="#7e180d" stroke="none" stroke-width="1"/>
<rect x="71.80" y="438.60" width="13.80" height="3.20" fill="#8d1a0f" stroke="none" stroke-width="1"/>
<rect x="71.80" y="441.00" width="13.80" height="3.20" fill="#991d10" stroke="none" stroke-width="1"/>
<rect x="71.80" y="443.40" width="13.80" height="3.20" fill="#9e1e11" stroke="none" stroke-width="1"/>
<rect x="71.80" y="445.80" width="13.80" height="3.20" fill="#8d1a0f" stroke="none" stroke-width="1"/>
<rect x="71.80" y="448.20" width="13.80" height="3.20" fill="#61130c" stroke="none" stroke-width="1"/>
<rect x="71.80" y="450.60" width="13.80" height="3.20" fill="#60120c" stroke="none" stroke-width="1"/>
<rect x="71.80" y="453.00" width="13.80" height="3.20" fill="#72160f" stroke="none" stroke-width="1"/>
<rect x="71.80" y="455.40" width="13.80" height="3.20" fill="#60120c" stroke="none" stroke-width="1"/>
<rect x="71.80" y="457.80" width="13.80" height="3.20" fill="#69140d" stroke="none" stroke-width="1"/>
<rect x="71.80" y="460.20" width="13.80" height="3.20" fill="#ae2312" stroke="none" stroke-width="1"/>
<rect x="71.80" y="462.60" width="13.80" height="3.20" fill="#bf2714" stroke="none" stroke-width="1"/>
<rect x="71.80" y="465.00" width="13.80" height="3.20" fill="#d32b16" stroke="none" stroke-width="1"/>
<rect x="71.80" y="467.40" width="13.80" height="3.20" fill="#ad2312" stroke="none" stroke-width="1"/>
<rect x="71.80" y="469.80" width="13.80" height="3.20" fill="#cd2a15" stroke="none" stroke-width="1"/>
<rect x="71.80" y="472.20" width="13.80" height="3.20" fill="#be2714" stroke="none" stroke-width="1"/>
<rect x="71.80" y="474.60" width="13.80" height="3.20" fill="#d02a16" stroke="none" stroke-width="1"/>
<rect x="71.80" y="477.00" width="13.80" height="3.20" fill="#c72915" stroke="none" stroke-width="1"/>
<rect x="71.80" y="479.40" width="13.80" height="3.20" fill="#b22413" stroke="none" stroke-width="1"/>
<rect x="71.80" y="481.80" width="13.80" height="3.20" fill="#d02a16" stroke="none" stroke-width="1"/>
<rect x="71.80" y="484.20" width="13.80" height="3.20" fill="#bd2614" stroke="none" stroke-width="1"/>
<rect x="71.80" y="486.60" width="13.80" height="3.20" fill="#2b0907" stroke="none" stroke-width="1"/>
<rect x="71.80" y="489.00" width="13.80" height="3.20" fill="#9b1f10" stroke="none" stroke-width="1"/>
<rect x="71.80" y="491.40" width="13.80" height="3.20" fill="#b02312" stroke="none" stroke-width="1"/>
<rect x="71.80" y="493.80" width="13.80" height="3.20" fill="#ae2312" stroke="none" stroke-width="1"/>
<rect x="71.80" y="496.20" width="13.80" height="3.20" fill="#a82211" stroke="none" stroke-width="1"/>
<rect x="71.80" y="498.60" width="13.80" height="3.20" fill="#a12011" stroke="none" stroke-width="1"/>
<rect x="71.80" y="501.00" width="13.80" height="3.20" fill="#aa2211" stroke="none" stroke-width="1"/>
<rect x="71.80" y="503.40" width="13.80" height="3.20" fill="#a82211" stroke="none" stroke-width="1"/>
<rect x="71.80" y="505.80" width="13.80" height="3.20" fill="#bf2614" stroke="none" stroke-width="1"/>
<rect x="71.80" y="508.20" width="13.80" height="3.20" fill="#9b1f10" stroke="none" stroke-width="1"/>
<rect x="71.80" y="510.60" width="13.80" height="3.20" fill="#bb2513" stroke="none" stroke-width="1"/>
<rect x="71.80" y="513.00" width="13.80" height="3.20" fill="#bf2614" stroke="none" stroke-width="1"/>
<rect x="71.80" y="515.40" width="13.80" height="3.20" fill="#a02010" stroke="none" stroke-width="1"/>
<rect x="71.80" y="517.80" width="13.80" height="3.20" fill="#c22714" stroke="none" stroke-width="1"/>
<rect x="71.80" y="520.20" width="13.80" height="3.20" fill="#b92513" stroke="none" stroke-width="1"/>
<rect x="71.80" y="522.60" width="13.80" height="3.20" fill="#c12714" stroke="none" stroke-width="1"/>
<rect x="71.80" y="525.00" width="13.80" height="3.20" fill="#a72111" stroke="none" stroke-width="1"/>
<rect x="71.80" y="527.40" width="13.80" height="3.20" fill="#71150d" stroke="none" stroke-width="1"/>
<rect x="71.80" y="529.80" width="13.80" height="3.20" fill="#841a0e" stroke="none" stroke-width="1"/>
<rect x="71.80" y="532.20" width="13.80" height="3.20" fill="#981e11" stroke="none" stroke-width="1"/>
<rect x="71.80" y="534.60" width="13.80" height="3.20" fill="#8a1b0f" stroke="none" stroke-width="1"/>
<rect x="71.80" y="537.00" width="13.80" height="3.20" fill="#831a0e" stroke="none" stroke-width="1"/>
<rect x="71.80" y="539.40" width="13.80" height="3.20" fill="#851a0f" stroke="none" stroke-width="1"/>
<rect x="71.80" y="541.80" width="13.80" height="3.20" fill="#80190e" stroke="none" stroke-width="1"/>
<rect x="71.80" y="544.20" width="13.80" height="3.20" fill="#931c0f" stroke="none" stroke-width="1"/>
<rect x="71.80" y="546.60" width="13.80" height="3.20" fill="#951d0f" stroke="none" stroke-width="1"/>
<rect x="71.80" y="549.00" width="13.80" height="3.20" fill="#b22212" stroke="none" stroke-width="1"/>
<rect x="71.80" y="551.40" width="13.80" height="3.20" fill="#9c1e10" stroke="none" stroke-width="1"/>
<rect x="71.80" y="553.80" width="13.80" height="3.20" fill="#b62312" stroke="none" stroke-width="1"/>
<rect x="71.80" y="556.20" width="13.80" height="3.20" fill="#9a1e0f" stroke="none" stroke-width="1"/>
<rect x="71.80" y="558.60" width="13.80" height="3.20" fill="#9b1e10" stroke="none" stroke-width="1"/>
<rect x="71.80" y="561.00" width="13.80" height="3.20" fill="#a52011" stroke="none" stroke-width="1"/>
<rect x="71.80" y="563.40" width="13.80" height="3.20" fill="#981d0f" stroke="none" stroke-width="1"/>
<rect x="71.80" y="565.80" width="13.80" height="3.20" fill="#9f1f10" stroke="none" stroke-width="1"/>
<rect x="71.80" y="568.20" width="13.80" height="3.20" fill="#b62312" stroke="none" stroke-width="1"/>
<rect x="71.80" y="570.60" width="13.80" height="3.20" fill="#b42312" stroke="none" stroke-width="1"/>
<rect x="71.80" y="573.00" width="13.80" height="3.20" fill="#b12212" stroke="none" stroke-width="1"/>
<rect x="71.80" y="575.40" width="13.80" height="3.20" fill="#aa2111" stroke="none" stroke-width="1"/>
<rect x="71.80" y="577.80" width="13.80" height="3.20" fill="#b52312" stroke="none" stroke-width="1"/>
<rect x="71.80" y="580.20" width="13.80" height="3.20" fill="#b62312" stroke="none" stroke-width="1"/>
<rect x="71.80" y="582.60" width="13.80" height="3.20" fill="#a62011" stroke="none" stroke-width="1"/>
<rect x="71.80" y="585.00" width="13.80" height="3.20" fill="#ad2211" stroke="none" stroke-width="1"/>
<rect x="71.80" y="587.40" width="13.80" height="3.20" fill="#931c0f" stroke="none" stroke-width="1"/>
<rect x="71.80" y="589.80" width="13.80" height="3.20" fill="#ae2211" stroke="none" stroke-width="1"/>
<rect x="71.80" y="592.20" width="13.80" height="3.20" fill="#8d1a0f" stroke="none" stroke-width="1"/>
<rect x="71.80" y="594.60" width="13.80" height="3.20" fill="#971c10" stroke="none" stroke-width="1"/>
<rect x="71.80" y="597.00" width="13.80" height="3.20" fill="#931c0f" stroke="none" stroke-width="1"/>
<rect x="71.80" y="599.40" width="13.80" height="3.20" fill="#87190e" stroke="none" stroke-width="1"/>
<rect x="71.80" y="601.80" width="13.80" height="3.20" fill="#7f180d" stroke="none" stroke-width="1"/>
<rect x="71.80" y="604.20" width="13.80" height="3.20" fill="#9d1d10" stroke="none" stroke-width="1"/>
<rect x="71.80" y="606.60" width="13.80" height="3.20" fill="#560f09" stroke="none" stroke-width="1"/>
<rect x="71.80" y="609.00" width="13.80" height="3.20" fill="#5e100a" stroke="none" stroke-width="1"/>
<rect x="71.80" y="611.40" width="13.80" height="3.20" fill="#891a0e" stroke="none" stroke-width="1"/>
<rect x="71.80" y="613.80" width="13.80" height="3.20" fill="#87190e" stroke="none" stroke-width="1"/>
<rect x="71.80" y="616.20" width="13.80" height="3.20" fill="#961c10" stroke="none" stroke-width="1"/>
<rect x="71.80" y="618.60" width="13.80" height="3.20" fill="#9f1e11" stroke="none" stroke-width="1"/>
<rect x="71.80" y="621.00" width="13.80" height="3.20" fill="#86190e" stroke="none" stroke-width="1"/>
<rect x="71.80" y="623.40" width="13.80" height="3.20" fill="#941c0f" stroke="none" stroke-width="1"/>
<rect x="71.80" y="625.80" width="13.80" height="3.20" fill="#87190e" stroke="none" stroke-width="1"/>
<rect x="71.80" y="628.20" width="13.80" height="3.20" fill="#901b0f" stroke="none" stroke-width="1"/>
<rect x="71.80" y="630.60" width="13.80" height="3.20" fill="#8b1a0e" stroke="none" stroke-width="1"/>
<rect x="71.80" y="633.00" width="13.80" height="3.20" fill="#6b140c" stroke="none" stroke-width="1"/>
<rect x="71.80" y="635.40" width="13.80" height="3.20" fill="#6b140c" stroke="none" stroke-width="1"/>
<rect x="71.80" y="637.80" width="13.80" height="3.20" fill="#84190e" stroke="none" stroke-width="1"/>
<rect x="71.80" y="640.20" width="13.80" height="3.20" fill="#9c1d10" stroke="none" stroke-width="1"/>
<rect x="71.80" y="642.60" width="13.80" height="3.20" fill="#8e1b0f" stroke="none" stroke-width="1"/>
<rect x="71.80" y="645.00" width="13.80" height="0.70" fill="#85190e" stroke="none" stroke-width="1"/>
</g>
<line x1="8.8" y1="648.5" x2="8.8" y2="655.2" stroke="#e9e9e9" stroke-width="0.8"/>
<line x1="22.7" y1="648.5" x2="22.7" y2="655.2" stroke="#e9e9e9" stroke-width="0.8"/>
<line x1="36.5" y1="648.5" x2="36.5" y2="655.2" stroke="#e9e9e9" stroke-width="0.8"/>
<line x1="51" y1="648.5" x2="51" y2="659.5" stroke="#e9e9e9" stroke-width="0.8"/>
<line x1="65" y1="648.5" x2="65" y2="659.5" stroke="#e9e9e9" stroke-width="0.8"/>
<line x1="79.2" y1="648.5" x2="79.2" y2="659.5" stroke="#e9e9e9" stroke-width="0.8"/>
<line x1="9.2" y1="655.4" x2="22.7" y2="655.4" stroke="#666" stroke-width="0.7"/>
<line x1="30.4" y1="654.7" x2="36.5" y2="654.7" stroke="#aaa" stroke-width="0.6"/>
<line x1="22.7" y1="655.0" x2="30.4" y2="655.0" stroke="#222" stroke-width="1.2"/>
<line x1="51" y1="660.3" x2="72" y2="660.3" stroke="#666" stroke-width="0.8"/>
<line x1="65" y1="659.2" x2="78.8" y2="659.2" stroke="#555" stroke-width="1.0"/>
<line x1="20.2" y1="655.5" x2="20.2" y2="682.2" stroke="#e9e9e9" stroke-width="0.8"/>
<line x1="61.2" y1="660.5" x2="61.2" y2="682.2" stroke="#e9e9e9" stroke-width="0.8"/>
<line x1="19.8" y1="682.3" x2="61.3" y2="682.3" stroke="#555" stroke-width="1.0"/>
<line x1="90.4" y1="406" x2="90.4" y2="462" stroke="#555" stroke-width="1.0"/>
<line x1="90.4" y1="475" x2="90.4" y2="543.5" stroke="#555" stroke-width="1.0"/>
<line x1="90.4" y1="580.5" x2="90.4" y2="645" stroke="#555" stroke-width="1.0"/>
<text x="101.3" y="414.00" font-size="8.7" fill="#111" stroke="#111" stroke-width="0.15" xml:space="preserve"><tspan font-weight="bold">B cell receptor signaling: </tspan><tspan font-style="italic">BLNK,</tspan></text>
<text x="101.3" y="425.05" font-size="8.7" fill="#111" stroke="#111" stroke-width="0.15" xml:space="preserve"><tspan font-style="italic">CD19, CD22, GAB2, CSK, PIK3CD,</tspan></text>
<text x="101.3" y="436.10" font-size="8.7" fill="#111" stroke="#111" stroke-width="0.15" xml:space="preserve"><tspan font-style="italic">SHC1, PTPN11, LYN, VAV2, BTK,</tspan></text>
<text x="101.3" y="447.15" font-size="8.7" fill="#111" stroke="#111" stroke-width="0.15" xml:space="preserve"><tspan font-style="italic">ABL1, PLCG2, AKT1/2, IKBKB,</tspan></text>
<text x="101.3" y="458.20" font-size="8.7" fill="#111" stroke="#111" stroke-width="0.15" xml:space="preserve"><tspan font-style="italic">NFKB2, NFAT5</tspan></text>
<text x="104" y="485.20" font-size="8.7" fill="#111" stroke="#111" stroke-width="0.15" xml:space="preserve"><tspan font-weight="bold">DNA methylation and</tspan></text>
<text x="104" y="496.15" font-size="8.7" fill="#111" stroke="#111" stroke-width="0.15" xml:space="preserve"><tspan font-weight="bold">transcriptional repression:</tspan></text>
<text x="104" y="507.10" font-size="8.7" fill="#111" stroke="#111" stroke-width="0.15" xml:space="preserve"><tspan font-style="italic">DNMT1/3A, MTA1/2, CHD3/4,</tspan></text>
<text x="104" y="518.05" font-size="8.7" fill="#111" stroke="#111" stroke-width="0.15" xml:space="preserve"><tspan font-style="italic">HDAC1, MBD2/3, RBBP7,</tspan></text>
<text x="104" y="529.00" font-size="8.7" fill="#111" stroke="#111" stroke-width="0.15" xml:space="preserve"><tspan font-style="italic">SIN3A/B, SAP180, EP300,</tspan></text>
<text x="104" y="539.95" font-size="8.7" fill="#111" stroke="#111" stroke-width="0.15" xml:space="preserve"><tspan font-style="italic">CREBBP</tspan></text>
<text x="104" y="587.60" font-size="8.7" fill="#111" stroke="#111" stroke-width="0.15" xml:space="preserve"><tspan font-weight="bold">tRNA charging: </tspan><tspan font-style="italic">AARS,</tspan></text>
<text x="104" y="598.40" font-size="8.7" fill="#111" stroke="#111" stroke-width="0.15" xml:space="preserve"><tspan font-style="italic">CARS, EARS2, GARS,</tspan></text>
<text x="104" y="609.20" font-size="8.7" fill="#111" stroke="#111" stroke-width="0.15" xml:space="preserve"><tspan font-style="italic">HARS, IARS, LARS,</tspan></text>
<text x="104" y="620.00" font-size="8.7" fill="#111" stroke="#111" stroke-width="0.15" xml:space="preserve"><tspan font-style="italic">MARS, NARS, QARS,</tspan></text>
<text x="104" y="630.80" font-size="8.7" fill="#111" stroke="#111" stroke-width="0.15" xml:space="preserve"><tspan font-style="italic">SARS, VARS, WARS,</tspan></text>
<text x="104" y="641.60" font-size="8.7" fill="#111" stroke="#111" stroke-width="0.15" xml:space="preserve"><tspan font-style="italic">YARS</tspan></text>
<text x="236.2" y="330.2" font-size="13" text-anchor="start" font-weight="bold" font-style="normal" fill="#000" stroke="#000" stroke-width="0.22">D</text>
<g filter="url(#blur3)">
<line x1="318.7" y1="337.5" x2="330.8" y2="375" stroke="#3f3ade" stroke-width="1.8" stroke-linecap="round"/>
<line x1="346.5" y1="343.4" x2="330.8" y2="375" stroke="#3f3ade" stroke-width="1.8" stroke-linecap="round"/>
<line x1="346.5" y1="343.4" x2="362" y2="361.8" stroke="#3f3ade" stroke-width="1.8" stroke-linecap="round"/>
<line x1="362" y1="361.8" x2="330.8" y2="375" stroke="#3f3ade" stroke-width="2.2" stroke-linecap="round"/>
<line x1="362" y1="361.8" x2="299.6" y2="364.8" stroke="#3f3ade" stroke-width="1.8" stroke-linecap="round"/>
<line x1="299.6" y1="364.8" x2="330.8" y2="375" stroke="#3f3ade" stroke-width="1.8" stroke-linecap="round"/>
<line x1="299.6" y1="364.8" x2="308.2" y2="396.4" stroke="#3f3ade" stroke-width="1.8" stroke-linecap="round"/>
<line x1="308.2" y1="396.4" x2="330.8" y2="375" stroke="#3f3ade" stroke-width="2.0" stroke-linecap="round"/>
<line x1="308.2" y1="396.4" x2="330.9" y2="406.8" stroke="#3f3ade" stroke-width="1.8" stroke-linecap="round"/>
<line x1="308.2" y1="396.4" x2="362" y2="361.8" stroke="#3f3ade" stroke-width="1.8" stroke-linecap="round"/>
<line x1="330.9" y1="406.8" x2="330.8" y2="375" stroke="#3f3ade" stroke-width="1.8" stroke-linecap="round"/>
<line x1="330.9" y1="406.8" x2="358.6" y2="392.5" stroke="#3f3ade" stroke-width="1.8" stroke-linecap="round"/>
<line x1="330.9" y1="406.8" x2="362" y2="361.8" stroke="#3f3ade" stroke-width="1.8" stroke-linecap="round"/>
<line x1="358.6" y1="392.5" x2="330.8" y2="375" stroke="#3f3ade" stroke-width="2.0" stroke-linecap="round"/>
<line x1="358.6" y1="392.5" x2="362" y2="361.8" stroke="#3f3ade" stroke-width="1.8" stroke-linecap="round"/>
<line x1="299.6" y1="364.8" x2="358.6" y2="392.5" stroke="#3f3ade" stroke-width="1.8" stroke-linecap="round"/>
<line x1="308.2" y1="396.4" x2="358.6" y2="392.5" stroke="#3f3ade" stroke-width="1.8" stroke-linecap="round"/>
<circle cx="318.7" cy="337.5" r="4.0" fill="url(#ng1)" stroke="#9a3626" stroke-width="1.25"/>
<circle cx="346.5" cy="343.4" r="8.4" fill="url(#ng2)" stroke="#9a3626" stroke-width="1.25"/>
<path d="M343.5 345.9 q1.2 -4.5 2.6 -1.8 t2.4 -2 q1 1.6 1.4 3 M344.5 341.2 q2 2.2 4 -0.2 M346.0 343.9 l1.2 2.6" fill="none" stroke="#4a9a50" stroke-width="0.9" stroke-linecap="round" opacity="0.42"/>
<circle cx="362" cy="361.8" r="8.4" fill="url(#ng3)" stroke="#9a3626" stroke-width="1.25"/>
<path d="M359 364.3 q1.2 -4.5 2.6 -1.8 t2.4 -2 q1 1.6 1.4 3 M360 359.6 q2 2.2 4 -0.2 M361.5 362.3 l1.2 2.6" fill="none" stroke="#4060c0" stroke-width="0.9" stroke-linecap="round" opacity="0.42"/>
<circle cx="299.6" cy="364.8" r="8.4" fill="url(#ng4)" stroke="#9a3626" stroke-width="1.25"/>
<path d="M296.6 367.3 q1.2 -4.5 2.6 -1.8 t2.4 -2 q1 1.6 1.4 3 M297.6 362.6 q2 2.2 4 -0.2 M299.1 365.3 l1.2 2.6" fill="none" stroke="#50a050" stroke-width="0.9" stroke-linecap="round" opacity="0.42"/>
<circle cx="330.8" cy="375" r="8.2" fill="url(#ng5)" stroke="#9a3626" stroke-width="1.25"/>
<path d="M327.8 377.5 q1.2 -4.5 2.6 -1.8 t2.4 -2 q1 1.6 1.4 3 M328.8 372.8 q2 2.2 4 -0.2 M330.3 375.5 l1.2 2.6" fill="none" stroke="#5060b0" stroke-width="0.9" stroke-linecap="round" opacity="0.42"/>
<circle cx="358.6" cy="392.5" r="8.0" fill="url(#ng6)" stroke="#9a3626" stroke-width="1.25"/>
<path d="M355.6 395.0 q1.2 -4.5 2.6 -1.8 t2.4 -2 q1 1.6 1.4 3 M356.6 390.3 q2 2.2 4 -0.2 M358.1 393.0 l1.2 2.6" fill="none" stroke="#d0d060" stroke-width="0.9" stroke-linecap="round" opacity="0.42"/>
<circle cx="308.2" cy="396.4" r="8.2" fill="url(#ng7)" stroke="#9a3626" stroke-width="1.25"/>
<path d="M305.2 398.9 q1.2 -4.5 2.6 -1.8 t2.4 -2 q1 1.6 1.4 3 M306.2 394.2 q2 2.2 4 -0.2 M307.7 396.9 l1.2 2.6" fill="none" stroke="#50a050" stroke-width="0.9" stroke-linecap="round" opacity="0.42"/>
<circle cx="330.9" cy="406.8" r="8.3" fill="url(#ng8)" stroke="#9a3626" stroke-width="1.25"/>
<path d="M327.9 409.3 q1.2 -4.5 2.6 -1.8 t2.4 -2 q1 1.6 1.4 3 M328.9 404.6 q2 2.2 4 -0.2 M330.4 407.3 l1.2 2.6" fill="none" stroke="#c04040" stroke-width="0.9" stroke-linecap="round" opacity="0.42"/>
</g>
<text x="291.8" y="334.2" font-size="9.8" text-anchor="start" font-weight="normal" font-style="normal" fill="#1a1a1a" stroke="#1a1a1a" stroke-width="0.22">TRRAP</text>
<text x="339.2" y="332.9" font-size="9.8" text-anchor="start" font-weight="normal" font-style="normal" fill="#1a1a1a" stroke="#1a1a1a" stroke-width="0.22">RELA</text>
<text x="358.8" y="352.2" font-size="9.8" text-anchor="start" font-weight="normal" font-style="normal" fill="#1a1a1a" stroke="#1a1a1a" stroke-width="0.22">EP300</text>
<text x="280" y="356" font-size="9.8" text-anchor="start" font-weight="normal" font-style="normal" fill="#1a1a1a" stroke="#1a1a1a" stroke-width="0.22">E2F1</text>
<text x="364.4" y="385.8" font-size="9.8" text-anchor="start" font-weight="normal" font-style="normal" fill="#1a1a1a" stroke="#1a1a1a" stroke-width="0.22">MAX</text>
<text x="281.6" y="415.5" font-size="9.8" text-anchor="start" font-weight="normal" font-style="normal" fill="#1a1a1a" stroke="#1a1a1a" stroke-width="0.22">TERT</text>
<text x="341.3" y="421" font-size="9.8" text-anchor="start" font-weight="normal" font-style="normal" fill="#1a1a1a" stroke="#1a1a1a" stroke-width="0.22">NCL</text>
<text x="331.8" y="378.4" font-size="9.5" text-anchor="middle" font-weight="bold" font-style="normal" fill="#111" stroke="#111" stroke-width="0.22">MYC</text>
<text x="400.2" y="367.3" font-size="9.6" text-anchor="start" font-weight="bold" font-style="italic" fill="#111" stroke="#111" stroke-width="0.22">MYC network</text>
<g filter="url(#blur3)">
<line x1="273.8" y1="480" x2="305" y2="466.3" stroke="#3f3ade" stroke-width="1.8" stroke-linecap="round"/>
<line x1="305" y1="466.3" x2="329.5" y2="480.8" stroke="#3f3ade" stroke-width="1.8" stroke-linecap="round"/>
<line x1="303.3" y1="493.3" x2="329.5" y2="480.8" stroke="#8a80e0" stroke-width="1.0" stroke-linecap="round"/>
<circle cx="305" cy="466.3" r="8.0" fill="url(#ng9)" stroke="#9a3626" stroke-width="1.25"/>
<path d="M302 468.8 q1.2 -4.5 2.6 -1.8 t2.4 -2 q1 1.6 1.4 3 M303 464.1 q2 2.2 4 -0.2 M304.5 466.8 l1.2 2.6" fill="none" stroke="#50a0a0" stroke-width="0.9" stroke-linecap="round" opacity="0.42"/>
<circle cx="273.8" cy="480" r="8.0" fill="url(#ng10)" stroke="#9a3626" stroke-width="1.25"/>
<path d="M270.8 482.5 q1.2 -4.5 2.6 -1.8 t2.4 -2 q1 1.6 1.4 3 M271.8 477.8 q2 2.2 4 -0.2 M273.3 480.5 l1.2 2.6" fill="none" stroke="#3060a0" stroke-width="0.9" stroke-linecap="round" opacity="0.42"/>
<circle cx="329.5" cy="480.8" r="8.0" fill="url(#ng11)" stroke="#9a3626" stroke-width="1.25"/>
<path d="M326.5 483.3 q1.2 -4.5 2.6 -1.8 t2.4 -2 q1 1.6 1.4 3 M327.5 478.6 q2 2.2 4 -0.2 M329.0 481.3 l1.2 2.6" fill="none" stroke="#c05050" stroke-width="0.9" stroke-linecap="round" opacity="0.42"/>
<circle cx="303.3" cy="493.3" r="8.4" fill="url(#ng12)" stroke="#9a3626" stroke-width="1.25"/>
<path d="M300.3 495.8 q1.2 -4.5 2.6 -1.8 t2.4 -2 q1 1.6 1.4 3 M301.3 491.1 q2 2.2 4 -0.2 M302.8 493.8 l1.2 2.6" fill="none" stroke="#5050b0" stroke-width="0.9" stroke-linecap="round" opacity="0.42"/>
</g>
<text x="305.9" y="454" font-size="9.5" text-anchor="middle" font-weight="bold" font-style="normal" fill="#111" stroke="#111" stroke-width="0.22">BCL2</text>
<text x="255.5" y="469" font-size="9.8" text-anchor="start" font-weight="normal" font-style="normal" fill="#1a1a1a" stroke="#1a1a1a" stroke-width="0.22">BNIPL</text>
<text x="325" y="470.5" font-size="9.8" text-anchor="start" font-weight="normal" font-style="normal" fill="#1a1a1a" stroke="#1a1a1a" stroke-width="0.22">APAF1</text>
<text x="287" y="515.5" font-size="9.8" text-anchor="start" font-weight="normal" font-style="normal" fill="#1a1a1a" stroke="#1a1a1a" stroke-width="0.22">BCL2L2</text>
<text x="297.5" y="534.5" font-size="9.6" text-anchor="start" font-weight="bold" font-style="italic" fill="#111" stroke="#111" stroke-width="0.22">BCL2 network</text>
<g filter="url(#blur3)">
<line x1="469.4" y1="408.3" x2="465.6" y2="435.8" stroke="#3f3ade" stroke-width="1.9" stroke-linecap="round"/>
<line x1="496.3" y1="433" x2="465.6" y2="435.8" stroke="#3f3ade" stroke-width="2.2" stroke-linecap="round"/>
<line x1="437.4" y1="426.3" x2="465.6" y2="435.8" stroke="#3f3ade" stroke-width="1.8" stroke-linecap="round"/>
<line x1="437.4" y1="426.3" x2="412.3" y2="452.5" stroke="#3f3ade" stroke-width="1.8" stroke-linecap="round"/>
<line x1="437.4" y1="426.3" x2="452.7" y2="458.7" stroke="#3f3ade" stroke-width="1.8" stroke-linecap="round"/>
<line x1="437.4" y1="426.3" x2="479.6" y2="469.4" stroke="#3f3ade" stroke-width="1.8" stroke-linecap="round"/>
<line x1="437.4" y1="426.3" x2="415" y2="485.6" stroke="#3f3ade" stroke-width="1.8" stroke-linecap="round"/>
<line x1="437.4" y1="426.3" x2="445" y2="491.8" stroke="#3f3ade" stroke-width="1.8" stroke-linecap="round"/>
<line x1="465.6" y1="435.8" x2="412.3" y2="452.5" stroke="#3f3ade" stroke-width="1.8" stroke-linecap="round"/>
<line x1="465.6" y1="435.8" x2="452.7" y2="458.7" stroke="#3f3ade" stroke-width="1.8" stroke-linecap="round"/>
<line x1="465.6" y1="435.8" x2="479.6" y2="469.4" stroke="#3f3ade" stroke-width="1.8" stroke-linecap="round"/>
<line x1="465.6" y1="435.8" x2="415" y2="485.6" stroke="#3f3ade" stroke-width="1.8" stroke-linecap="round"/>
<line x1="465.6" y1="435.8" x2="445" y2="491.8" stroke="#3f3ade" stroke-width="1.8" stroke-linecap="round"/>
<line x1="412.3" y1="452.5" x2="452.7" y2="458.7" stroke="#3f3ade" stroke-width="2.6" stroke-linecap="round"/>
<line x1="412.3" y1="452.5" x2="479.6" y2="469.4" stroke="#3f3ade" stroke-width="2.6" stroke-linecap="round"/>
<line x1="412.3" y1="452.5" x2="415" y2="485.6" stroke="#3f3ade" stroke-width="1.8" stroke-linecap="round"/>
<line x1="412.3" y1="452.5" x2="445" y2="491.8" stroke="#3f3ade" stroke-width="1.8" stroke-linecap="round"/>
<line x1="452.7" y1="458.7" x2="479.6" y2="469.4" stroke="#3f3ade" stroke-width="2.6" stroke-linecap="round"/>
<line x1="452.7" y1="458.7" x2="415" y2="485.6" stroke="#3f3ade" stroke-width="1.8" stroke-linecap="round"/>
<line x1="452.7" y1="458.7" x2="445" y2="491.8" stroke="#3f3ade" stroke-width="1.8" stroke-linecap="round"/>
<line x1="479.6" y1="469.4" x2="415" y2="485.6" stroke="#3f3ade" stroke-width="1.8" stroke-linecap="round"/>
<line x1="479.6" y1="469.4" x2="445" y2="491.8" stroke="#3f3ade" stroke-width="1.8" stroke-linecap="round"/>
<line x1="415" y1="485.6" x2="445" y2="491.8" stroke="#3f3ade" stroke-width="1.8" stroke-linecap="round"/>
<circle cx="469.4" cy="408.3" r="7.8" fill="url(#ng13)" stroke="#9a3626" stroke-width="1.25"/>
<path d="M466.4 410.8 q1.2 -4.5 2.6 -1.8 t2.4 -2 q1 1.6 1.4 3 M467.4 406.1 q2 2.2 4 -0.2 M468.9 408.8 l1.2 2.6" fill="none" stroke="#50a050" stroke-width="0.9" stroke-linecap="round" opacity="0.42"/>
<circle cx="437.4" cy="426.3" r="8.0" fill="url(#ng14)" stroke="#9a3626" stroke-width="1.25"/>
<path d="M434.4 428.8 q1.2 -4.5 2.6 -1.8 t2.4 -2 q1 1.6 1.4 3 M435.4 424.1 q2 2.2 4 -0.2 M436.9 426.8 l1.2 2.6" fill="none" stroke="#50a0a0" stroke-width="0.9" stroke-linecap="round" opacity="0.42"/>
<circle cx="465.6" cy="435.8" r="8.0" fill="url(#ng15)" stroke="#9a3626" stroke-width="1.25"/>
<path d="M462.6 438.3 q1.2 -4.5 2.6 -1.8 t2.4 -2 q1 1.6 1.4 3 M463.6 433.6 q2 2.2 4 -0.2 M465.1 436.3 l1.2 2.6" fill="none" stroke="#5080c0" stroke-width="0.9" stroke-linecap="round" opacity="0.42"/>
<circle cx="496.3" cy="433" r="7.8" fill="url(#ng16)" stroke="#9a3626" stroke-width="1.25"/>
<path d="M493.3 435.5 q1.2 -4.5 2.6 -1.8 t2.4 -2 q1 1.6 1.4 3 M494.3 430.8 q2 2.2 4 -0.2 M495.8 433.5 l1.2 2.6" fill="none" stroke="#c0c040" stroke-width="0.9" stroke-linecap="round" opacity="0.42"/>
<circle cx="412.3" cy="452.5" r="8.4" fill="url(#ng17)" stroke="#9a3626" stroke-width="1.25"/>
<path d="M409.3 455.0 q1.2 -4.5 2.6 -1.8 t2.4 -2 q1 1.6 1.4 3 M410.3 450.3 q2 2.2 4 -0.2 M411.8 453.0 l1.2 2.6" fill="none" stroke="#50a050" stroke-width="0.9" stroke-linecap="round" opacity="0.42"/>
<circle cx="452.7" cy="458.7" r="8.4" fill="url(#ng18)" stroke="#9a3626" stroke-width="1.25"/>
<path d="M449.7 461.2 q1.2 -4.5 2.6 -1.8 t2.4 -2 q1 1.6 1.4 3 M450.7 456.5 q2 2.2 4 -0.2 M452.2 459.2 l1.2 2.6" fill="none" stroke="#40a0c0" stroke-width="0.9" stroke-linecap="round" opacity="0.42"/>
<circle cx="479.6" cy="469.4" r="8.4" fill="url(#ng19)" stroke="#9a3626" stroke-width="1.25"/>
<path d="M476.6 471.9 q1.2 -4.5 2.6 -1.8 t2.4 -2 q1 1.6 1.4 3 M477.6 467.2 q2 2.2 4 -0.2 M479.1 469.9 l1.2 2.6" fill="none" stroke="#c05050" stroke-width="0.9" stroke-linecap="round" opacity="0.42"/>
<circle cx="415" cy="485.6" r="8.4" fill="url(#ng20)" stroke="#9a3626" stroke-width="1.25"/>
<path d="M412 488.1 q1.2 -4.5 2.6 -1.8 t2.4 -2 q1 1.6 1.4 3 M413 483.40000000000003 q2 2.2 4 -0.2 M414.5 486.1 l1.2 2.6" fill="none" stroke="#5080c0" stroke-width="0.9" stroke-linecap="round" opacity="0.42"/>
<circle cx="445" cy="491.8" r="8.4" fill="url(#ng21)" stroke="#9a3626" stroke-width="1.25"/>
<path d="M442 494.3 q1.2 -4.5 2.6 -1.8 t2.4 -2 q1 1.6 1.4 3 M443 489.6 q2 2.2 4 -0.2 M444.5 492.3 l1.2 2.6" fill="none" stroke="#5050b0" stroke-width="0.9" stroke-linecap="round" opacity="0.42"/>
</g>
<text x="432.5" y="410" font-size="9.8" text-anchor="start" font-weight="normal" font-style="normal" fill="#1a1a1a" stroke="#1a1a1a" stroke-width="0.22">BCOR</text>
<text x="401.5" y="420.4" font-size="9.8" text-anchor="start" font-weight="normal" font-style="normal" fill="#1a1a1a" stroke="#1a1a1a" stroke-width="0.22">NCOR</text>
<text x="487" y="422.4" font-size="9.8" text-anchor="start" font-weight="normal" font-style="normal" fill="#1a1a1a" stroke="#1a1a1a" stroke-width="0.22">PPARD</text>
<text x="390" y="443.2" font-size="9.8" text-anchor="start" font-weight="normal" font-style="normal" fill="#1a1a1a" stroke="#1a1a1a" stroke-width="0.22">HDAC1</text>
<text x="464.8" y="458.4" font-size="9.8" text-anchor="start" font-weight="normal" font-style="normal" fill="#1a1a1a" stroke="#1a1a1a" stroke-width="0.22">SMRT</text>
<text x="491" y="473.4" font-size="9.8" text-anchor="start" font-weight="normal" font-style="normal" fill="#1a1a1a" stroke="#1a1a1a" stroke-width="0.22">SIN3A</text>
<text x="400" y="506" font-size="9.8" text-anchor="start" font-weight="normal" font-style="normal" fill="#1a1a1a" stroke="#1a1a1a" stroke-width="0.22">HDAC3</text>
<text x="454" y="503.3" font-size="9.8" text-anchor="start" font-weight="normal" font-style="normal" fill="#1a1a1a" stroke="#1a1a1a" stroke-width="0.22">HDAC7</text>
<text x="468.2" y="441.3" font-size="9.5" text-anchor="middle" font-weight="bold" font-style="normal" fill="#111" stroke="#111" stroke-width="0.22">BCL6</text>
<text x="444.6" y="520" font-size="9.6" text-anchor="start" font-weight="bold" font-style="italic" fill="#111" stroke="#111" stroke-width="0.22">BCL6 network</text>
<text x="215.6" y="577.3" font-size="13" text-anchor="start" font-weight="bold" font-style="normal" fill="#000" stroke="#000" stroke-width="0.22">E</text>
<text x="241.4" y="619.5" font-size="9.0" text-anchor="middle" font-weight="normal" font-style="normal" fill="#1a1a1a" stroke="#1a1a1a" stroke-width="0.22" transform="rotate(-90 241.4 619.5)">Cy/Nc mRNA (ratio)</text>
<text x="259.6" y="662.4" font-size="8.4" text-anchor="end" font-weight="normal" font-style="normal" fill="#111" stroke="#111" stroke-width="0.22">0.0</text>
<line x1="260.3" y1="659.4" x2="262.5" y2="659.4" stroke="#222" stroke-width="0.9"/>
<text x="259.6" y="636.75" font-size="8.4" text-anchor="end" font-weight="normal" font-style="normal" fill="#111" stroke="#111" stroke-width="0.22">0.5</text>
<line x1="260.3" y1="633.75" x2="262.5" y2="633.75" stroke="#222" stroke-width="0.9"/>
<text x="259.6" y="611.1" font-size="8.4" text-anchor="end" font-weight="normal" font-style="normal" fill="#111" stroke="#111" stroke-width="0.22">1.0</text>
<line x1="260.3" y1="608.1" x2="262.5" y2="608.1" stroke="#222" stroke-width="0.9"/>
<text x="259.6" y="585.45" font-size="8.4" text-anchor="end" font-weight="normal" font-style="normal" fill="#111" stroke="#111" stroke-width="0.22">1.5</text>
<line x1="260.3" y1="582.45" x2="262.5" y2="582.45" stroke="#222" stroke-width="0.9"/>
<line x1="262.5" y1="582.0500000000001" x2="262.5" y2="659.8" stroke="#222" stroke-width="0.9"/>
<line x1="262.5" y1="659.4" x2="508" y2="659.4" stroke="#222" stroke-width="0.9"/>
<rect x="268.20" y="567.90" width="6.80" height="7.30" fill="#dcee7c" stroke="#383838" stroke-width="0.9"/>
<text x="277.6" y="574.7" font-size="9.0" text-anchor="start" font-weight="normal" font-style="normal" fill="#1a1a1a" stroke="#1a1a1a" stroke-width="0.22">BCL6</text>
<rect x="321.50" y="567.90" width="6.80" height="7.30" fill="#f2cf78" stroke="#383838" stroke-width="0.9"/>
<text x="331" y="574.7" font-size="9.0" text-anchor="start" font-weight="normal" font-style="normal" fill="#1a1a1a" stroke="#1a1a1a" stroke-width="0.22">MYC</text>
<rect x="372.70" y="567.90" width="6.80" height="7.30" fill="#86c8f0" stroke="#383838" stroke-width="0.9"/>
<text x="382" y="574.7" font-size="9.0" text-anchor="start" font-weight="normal" font-style="normal" fill="#1a1a1a" stroke="#1a1a1a" stroke-width="0.22">BCL2</text>
<rect x="423.50" y="567.90" width="6.80" height="7.30" fill="#ffffff" stroke="#383838" stroke-width="0.9"/>
<text x="434" y="574.7" font-size="9.0" text-anchor="start" font-weight="normal" font-style="normal" fill="#1a1a1a" stroke="#1a1a1a" stroke-width="0.22">GAPDH</text>
<rect x="267.00" y="608.10" width="6.00" height="51.30" fill="#dcee7c" stroke="#383838" stroke-width="0.9"/>
<line x1="270.0" y1="599.7" x2="270.0" y2="608.1" stroke="#383838" stroke-width="0.9"/>
<line x1="268.2" y1="599.7" x2="271.8" y2="599.7" stroke="#383838" stroke-width="0.9"/>
<rect x="275.70" y="608.10" width="6.00" height="51.30" fill="#f2cf78" stroke="#383838" stroke-width="0.9"/>
<line x1="278.7" y1="601" x2="278.7" y2="608.1" stroke="#383838" stroke-width="0.9"/>
<line x1="276.9" y1="601" x2="280.5" y2="601" stroke="#383838" stroke-width="0.9"/>
<rect x="284.30" y="608.10" width="6.00" height="51.30" fill="#86c8f0" stroke="#383838" stroke-width="0.9"/>
<line x1="287.3" y1="601" x2="287.3" y2="608.1" stroke="#383838" stroke-width="0.9"/>
<line x1="285.5" y1="601" x2="289.1" y2="601" stroke="#383838" stroke-width="0.9"/>
<rect x="293.20" y="608.10" width="6.00" height="51.30" fill="#ffffff" stroke="#383838" stroke-width="0.9"/>
<line x1="296.2" y1="604.6" x2="296.2" y2="608.1" stroke="#383838" stroke-width="0.9"/>
<line x1="294.4" y1="604.6" x2="298.0" y2="604.6" stroke="#383838" stroke-width="0.9"/>
<rect x="308.00" y="644.52" width="6.00" height="14.88" fill="#dcee7c" stroke="#383838" stroke-width="0.9"/>
<line x1="311.0" y1="638" x2="311.0" y2="644.523" stroke="#383838" stroke-width="0.9"/>
<line x1="309.2" y1="638" x2="312.8" y2="638" stroke="#383838" stroke-width="0.9"/>
<rect x="316.80" y="634.78" width="6.00" height="24.62" fill="#f2cf78" stroke="#383838" stroke-width="0.9"/>
<line x1="319.8" y1="632" x2="319.8" y2="634.776" stroke="#383838" stroke-width="0.9"/>
<line x1="318.0" y1="632" x2="321.6" y2="632" stroke="#383838" stroke-width="0.9"/>
<rect x="325.70" y="636.83" width="6.00" height="22.57" fill="#86c8f0" stroke="#383838" stroke-width="0.9"/>
<line x1="328.7" y1="633.5" x2="328.7" y2="636.828" stroke="#383838" stroke-width="0.9"/>
<line x1="326.9" y1="633.5" x2="330.5" y2="633.5" stroke="#383838" stroke-width="0.9"/>
<rect x="334.40" y="593.22" width="6.00" height="66.18" fill="#ffffff" stroke="#383838" stroke-width="0.9"/>
<line x1="337.4" y1="588.7" x2="337.4" y2="593.223" stroke="#383838" stroke-width="0.9"/>
<line x1="335.59999999999997" y1="588.7" x2="339.2" y2="588.7" stroke="#383838" stroke-width="0.9"/>
<rect x="349.00" y="608.10" width="6.00" height="51.30" fill="#dcee7c" stroke="#383838" stroke-width="0.9"/>
<line x1="352.0" y1="604.2" x2="352.0" y2="608.1" stroke="#383838" stroke-width="0.9"/>
<line x1="350.2" y1="604.2" x2="353.8" y2="604.2" stroke="#383838" stroke-width="0.9"/>
<rect x="357.70" y="608.10" width="6.00" height="51.30" fill="#f2cf78" stroke="#383838" stroke-width="0.9"/>
<line x1="360.7" y1="604.2" x2="360.7" y2="608.1" stroke="#383838" stroke-width="0.9"/>
<line x1="358.9" y1="604.2" x2="362.5" y2="604.2" stroke="#383838" stroke-width="0.9"/>
<rect x="366.50" y="608.10" width="6.00" height="51.30" fill="#86c8f0" stroke="#383838" stroke-width="0.9"/>
<line x1="369.5" y1="603" x2="369.5" y2="608.1" stroke="#383838" stroke-width="0.9"/>
<line x1="367.7" y1="603" x2="371.3" y2="603" stroke="#383838" stroke-width="0.9"/>
<rect x="375.20" y="608.10" width="6.00" height="51.30" fill="#ffffff" stroke="#383838" stroke-width="0.9"/>
<line x1="378.2" y1="602.5" x2="378.2" y2="608.1" stroke="#383838" stroke-width="0.9"/>
<line x1="376.4" y1="602.5" x2="380.0" y2="602.5" stroke="#383838" stroke-width="0.9"/>
<rect x="389.70" y="627.59" width="6.00" height="31.81" fill="#dcee7c" stroke="#383838" stroke-width="0.9"/>
<line x1="392.7" y1="623" x2="392.7" y2="627.5939999999999" stroke="#383838" stroke-width="0.9"/>
<line x1="390.9" y1="623" x2="394.5" y2="623" stroke="#383838" stroke-width="0.9"/>
<rect x="398.40" y="634.26" width="6.00" height="25.14" fill="#f2cf78" stroke="#383838" stroke-width="0.9"/>
<line x1="401.4" y1="632.3" x2="401.4" y2="634.263" stroke="#383838" stroke-width="0.9"/>
<line x1="399.59999999999997" y1="632.3" x2="403.2" y2="632.3" stroke="#383838" stroke-width="0.9"/>
<rect x="407.20" y="635.80" width="6.00" height="23.60" fill="#86c8f0" stroke="#383838" stroke-width="0.9"/>
<line x1="410.2" y1="631" x2="410.2" y2="635.802" stroke="#383838" stroke-width="0.9"/>
<line x1="408.4" y1="631" x2="412.0" y2="631" stroke="#383838" stroke-width="0.9"/>
<rect x="416.10" y="599.89" width="6.00" height="59.51" fill="#ffffff" stroke="#383838" stroke-width="0.9"/>
<line x1="419.1" y1="587.5" x2="419.1" y2="599.8919999999999" stroke="#383838" stroke-width="0.9"/>
<line x1="417.3" y1="587.5" x2="420.90000000000003" y2="587.5" stroke="#383838" stroke-width="0.9"/>
<rect x="430.90" y="608.10" width="6.00" height="51.30" fill="#dcee7c" stroke="#383838" stroke-width="0.9"/>
<line x1="433.9" y1="600.3" x2="433.9" y2="608.1" stroke="#383838" stroke-width="0.9"/>
<line x1="432.09999999999997" y1="600.3" x2="435.7" y2="600.3" stroke="#383838" stroke-width="0.9"/>
<rect x="439.70" y="608.10" width="6.00" height="51.30" fill="#f2cf78" stroke="#383838" stroke-width="0.9"/>
<line x1="442.7" y1="600.3" x2="442.7" y2="608.1" stroke="#383838" stroke-width="0.9"/>
<line x1="440.9" y1="600.3" x2="444.5" y2="600.3" stroke="#383838" stroke-width="0.9"/>
<rect x="448.60" y="608.10" width="6.00" height="51.30" fill="#86c8f0" stroke="#383838" stroke-width="0.9"/>
<line x1="451.6" y1="600.3" x2="451.6" y2="608.1" stroke="#383838" stroke-width="0.9"/>
<line x1="449.8" y1="600.3" x2="453.40000000000003" y2="600.3" stroke="#383838" stroke-width="0.9"/>
<rect x="457.50" y="608.10" width="6.00" height="51.30" fill="#ffffff" stroke="#383838" stroke-width="0.9"/>
<line x1="460.5" y1="602.6" x2="460.5" y2="608.1" stroke="#383838" stroke-width="0.9"/>
<line x1="458.7" y1="602.6" x2="462.3" y2="602.6" stroke="#383838" stroke-width="0.9"/>
<rect x="471.80" y="629.65" width="6.00" height="29.75" fill="#dcee7c" stroke="#383838" stroke-width="0.9"/>
<line x1="474.8" y1="622.2" x2="474.8" y2="629.646" stroke="#383838" stroke-width="0.9"/>
<line x1="473.0" y1="622.2" x2="476.6" y2="622.2" stroke="#383838" stroke-width="0.9"/>
<rect x="480.60" y="624.00" width="6.00" height="35.40" fill="#f2cf78" stroke="#383838" stroke-width="0.9"/>
<line x1="483.6" y1="619" x2="483.6" y2="624.0029999999999" stroke="#383838" stroke-width="0.9"/>
<line x1="481.8" y1="619" x2="485.40000000000003" y2="619" stroke="#383838" stroke-width="0.9"/>
<rect x="489.30" y="637.85" width="6.00" height="21.55" fill="#86c8f0" stroke="#383838" stroke-width="0.9"/>
<line x1="492.3" y1="633.5" x2="492.3" y2="637.8539999999999" stroke="#383838" stroke-width="0.9"/>
<line x1="490.5" y1="633.5" x2="494.1" y2="633.5" stroke="#383838" stroke-width="0.9"/>
<rect x="498.40" y="614.77" width="6.00" height="44.63" fill="#ffffff" stroke="#383838" stroke-width="0.9"/>
<line x1="501.4" y1="612.7" x2="501.4" y2="614.769" stroke="#383838" stroke-width="0.9"/>
<line x1="499.59999999999997" y1="612.7" x2="503.2" y2="612.7" stroke="#383838" stroke-width="0.9"/>
<text x="282.7" y="670.6" font-size="9.1" text-anchor="middle" font-weight="normal" font-style="normal" fill="#1a1a1a" stroke="#1a1a1a" stroke-width="0.22">Vehicle</text>
<text x="324" y="670.6" font-size="9.1" text-anchor="middle" font-weight="normal" font-style="normal" fill="#1a1a1a" stroke="#1a1a1a" stroke-width="0.22">RBV</text>
<text x="365" y="670.6" font-size="9.1" text-anchor="middle" font-weight="normal" font-style="normal" fill="#1a1a1a" stroke="#1a1a1a" stroke-width="0.22">Vehicle</text>
<text x="405.8" y="670.6" font-size="9.1" text-anchor="middle" font-weight="normal" font-style="normal" fill="#1a1a1a" stroke="#1a1a1a" stroke-width="0.22">RBV</text>
<text x="447.3" y="670.6" font-size="9.1" text-anchor="middle" font-weight="normal" font-style="normal" fill="#1a1a1a" stroke="#1a1a1a" stroke-width="0.22">Vehicle</text>
<text x="487.7" y="670.6" font-size="9.1" text-anchor="middle" font-weight="normal" font-style="normal" fill="#1a1a1a" stroke="#1a1a1a" stroke-width="0.22">RBV</text>
<line x1="265.4" y1="679.3" x2="340.5" y2="679.3" stroke="#111" stroke-width="1.2"/>
<text x="302.3" y="692.9" font-size="9.3" text-anchor="middle" font-weight="normal" font-style="normal" fill="#1a1a1a" stroke="#1a1a1a" stroke-width="0.22">OCI-Ly1</text>
<line x1="347.5" y1="679.3" x2="422.6" y2="679.3" stroke="#111" stroke-width="1.2"/>
<text x="383" y="693.6" font-size="9.3" text-anchor="middle" font-weight="normal" font-style="normal" fill="#1a1a1a" stroke="#1a1a1a" stroke-width="0.22">SU-DHL6</text>
<line x1="431.3" y1="679.3" x2="505" y2="679.3" stroke="#111" stroke-width="1.2"/>
<text x="465" y="694.3" font-size="9.3" text-anchor="middle" font-weight="normal" font-style="normal" fill="#1a1a1a" stroke="#1a1a1a" stroke-width="0.22">DoHH2</text>
<line x1="283.0" y1="659.4" x2="283.0" y2="661.4" stroke="#222" stroke-width="0.8"/>
<line x1="324.25" y1="659.4" x2="324.25" y2="661.4" stroke="#222" stroke-width="0.8"/>
<line x1="365.1" y1="659.4" x2="365.1" y2="661.4" stroke="#222" stroke-width="0.8"/>
<line x1="405.79999999999995" y1="659.4" x2="405.79999999999995" y2="661.4" stroke="#222" stroke-width="0.8"/>
<line x1="447.15" y1="659.4" x2="447.15" y2="661.4" stroke="#222" stroke-width="0.8"/>
<line x1="487.95000000000005" y1="659.4" x2="487.95000000000005" y2="661.4" stroke="#222" stroke-width="0.8"/>
</svg>
</body>
</html>
